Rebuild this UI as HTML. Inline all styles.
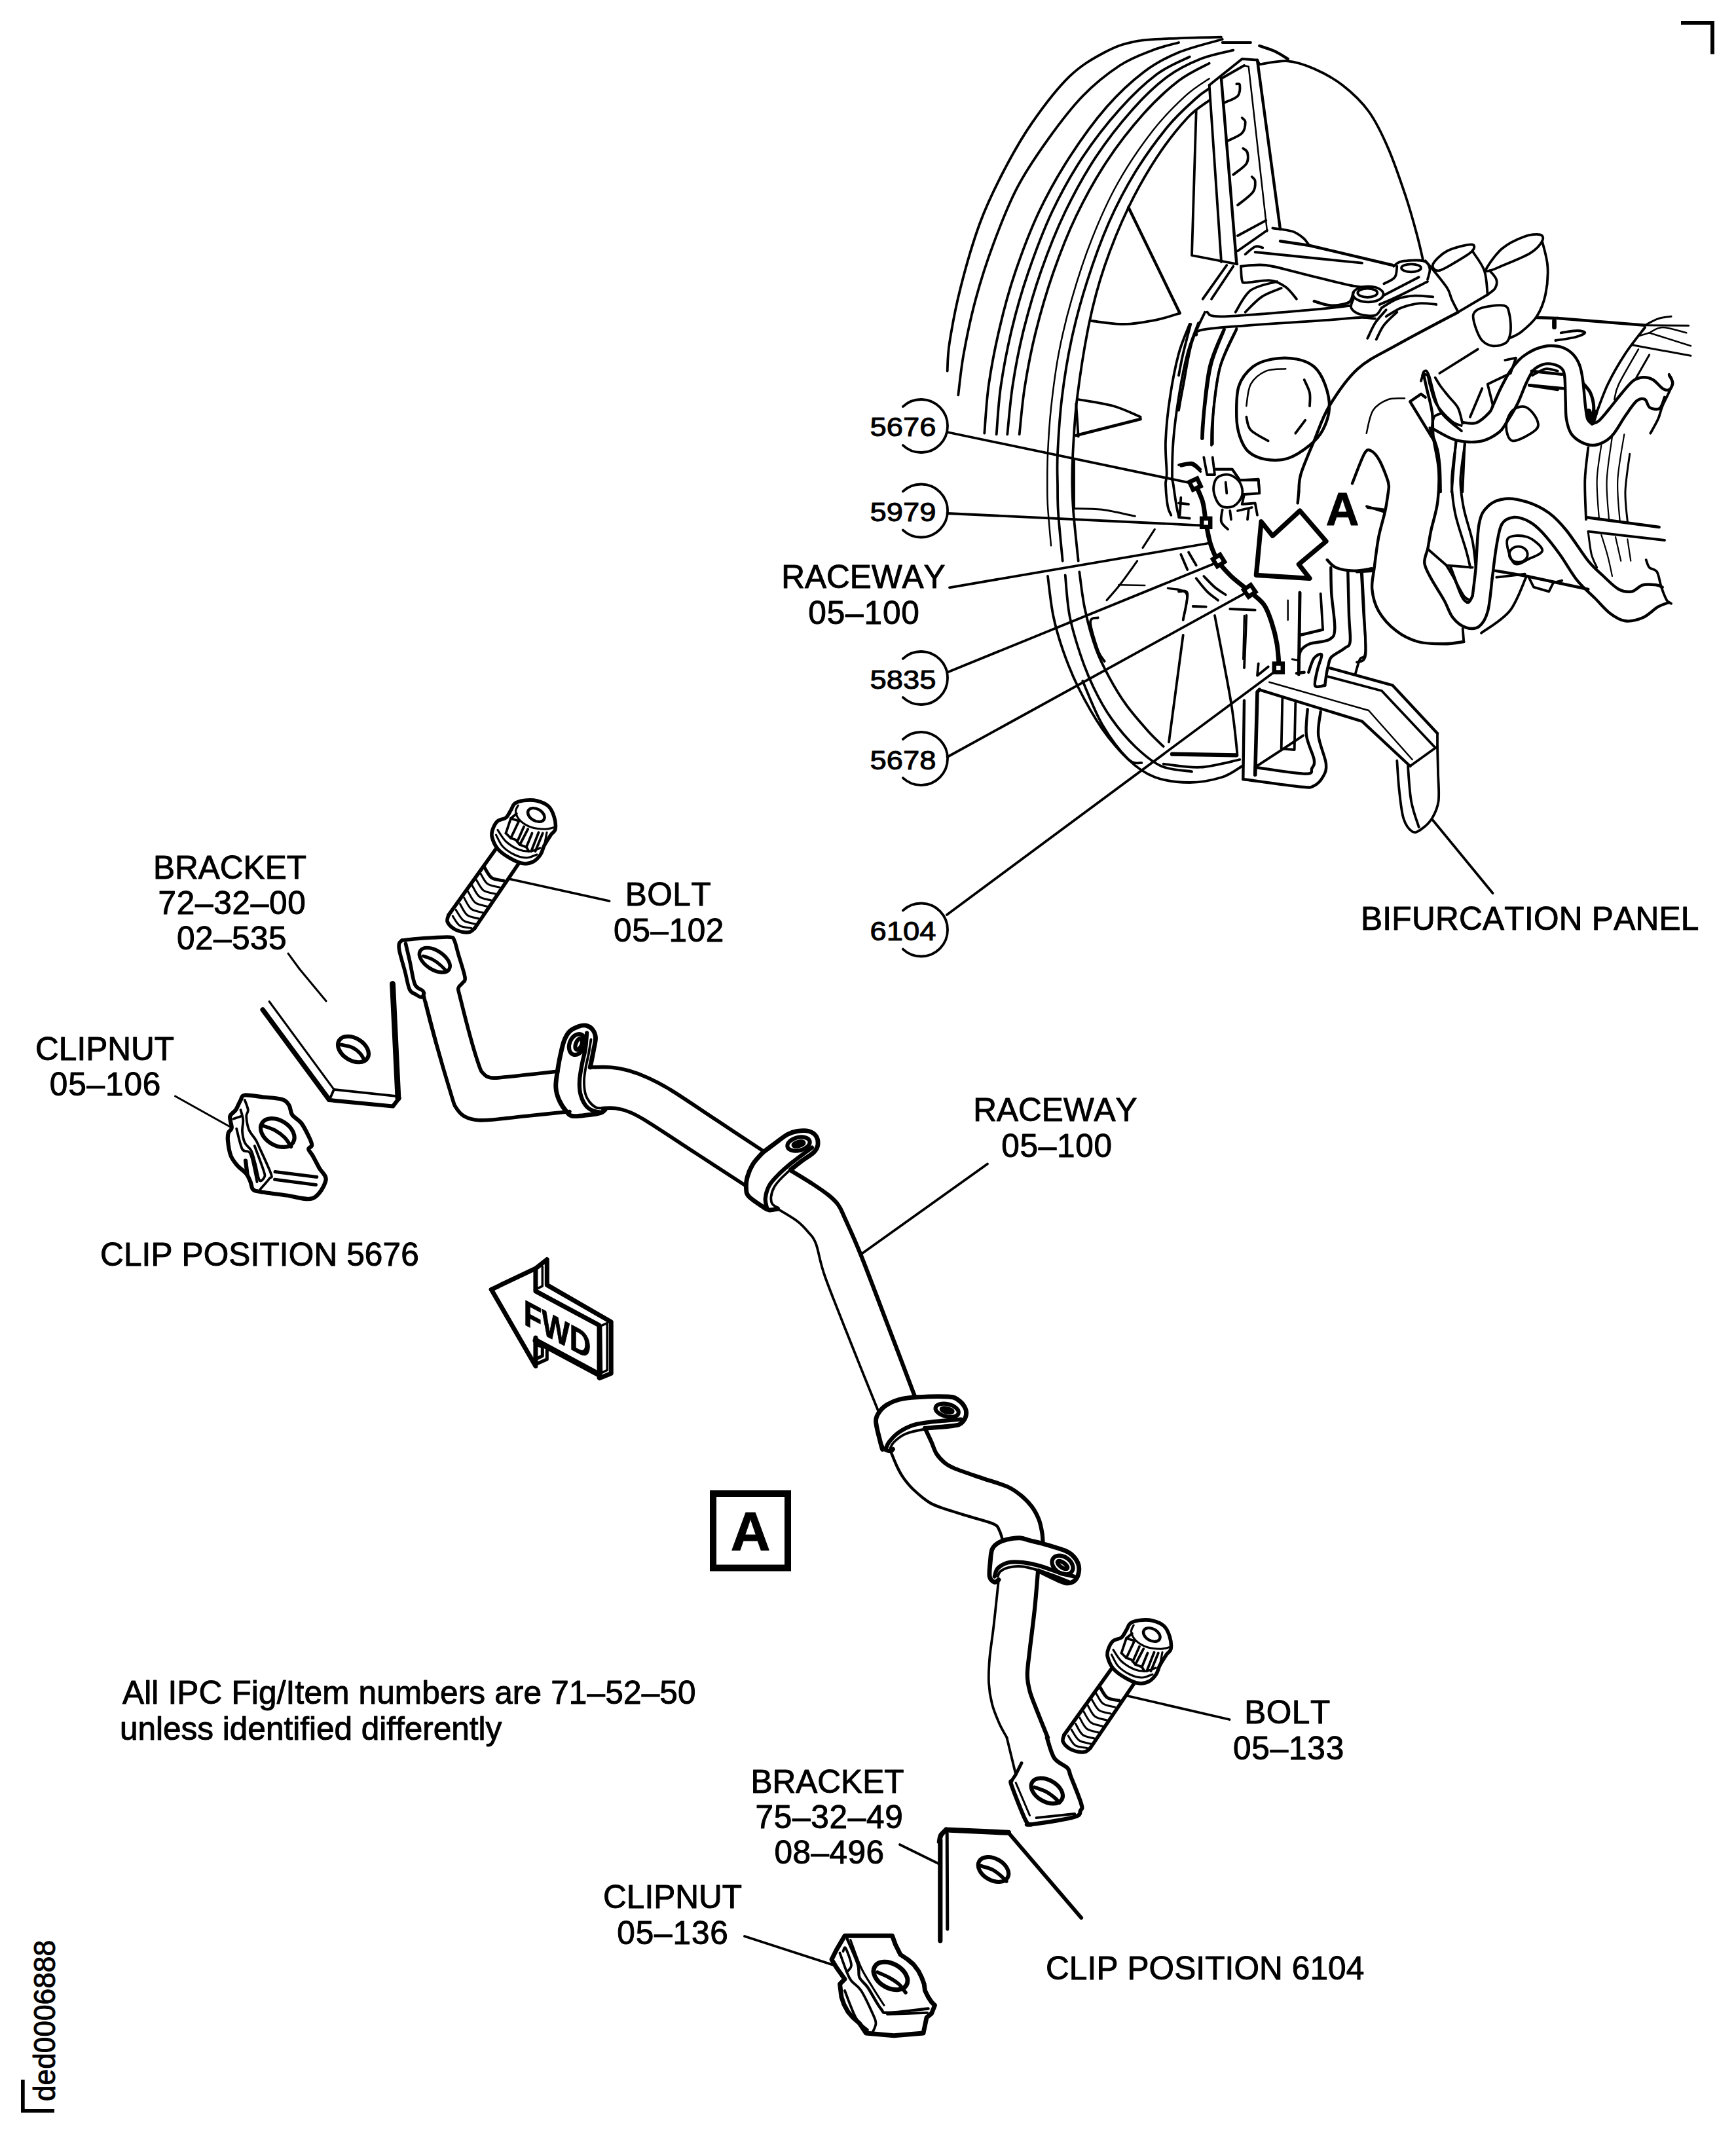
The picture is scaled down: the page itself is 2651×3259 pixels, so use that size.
<!DOCTYPE html>
<html><head><meta charset="utf-8"><title>Raceway 05-100</title>
<style>
html,body{margin:0;padding:0;background:#fff}
body{width:2651px;height:3259px;overflow:hidden}
svg{display:block}
svg text{font-family:"Liberation Sans",sans-serif;fill:#000;stroke:#000;stroke-width:1px;font-kerning:none}
</style></head><body>
<svg width="2651" height="3259" viewBox="0 0 2651 3259" >
<g fill="none" stroke="#000" stroke-width="3" stroke-linecap="round" stroke-linejoin="round" font-size="49.5">
<text x="351" y="1341.5" text-anchor="middle">BRACKET</text>
<text x="354.5" y="1396" text-anchor="middle" letter-spacing="0.75">72–32–00</text>
<text x="354" y="1450" text-anchor="middle" letter-spacing="0.5">02–535</text>
<text x="160" y="1619" text-anchor="middle">CLIPNUT</text>
<text x="161" y="1672.5" text-anchor="middle" letter-spacing="0.9">05–106</text>
<text x="153" y="1932.5" letter-spacing="0.15">CLIP POSITION 5676</text>
<text x="1020.5" y="1382.5" text-anchor="middle" letter-spacing="0.5">BOLT</text>
<text x="1021.5" y="1437.5" text-anchor="middle" letter-spacing="0.6">05–102</text>
<text x="1611.5" y="1711.5" text-anchor="middle">RACEWAY</text>
<text x="1614" y="1766.5" text-anchor="middle" letter-spacing="0.7">05–100</text>
<text x="187" y="2602" letter-spacing="0.17">All IPC Fig/Item numbers are 71–52–50</text>
<text x="183" y="2657">unless identified differently</text>
<text x="1263.5" y="2738" text-anchor="middle">BRACKET</text>
<text x="1266.5" y="2792" text-anchor="middle" letter-spacing="0.7">75–32–49</text>
<text x="1266.5" y="2846" text-anchor="middle" letter-spacing="0.5">08–496</text>
<text x="1027" y="2913.5" text-anchor="middle">CLIPNUT</text>
<text x="1027.5" y="2968.5" text-anchor="middle" letter-spacing="0.9">05–136</text>
<text x="1597" y="3023" letter-spacing="0.12">CLIP POSITION 6104</text>
<text x="1966" y="2632" text-anchor="middle" letter-spacing="0.5">BOLT</text>
<text x="1968" y="2687" text-anchor="middle" letter-spacing="0.8">05–133</text>
<text x="2078" y="1420" letter-spacing="0.3">BIFURCATION PANEL</text>
<text x="1318.5" y="897.5" text-anchor="middle">RACEWAY</text>
<text x="1319.5" y="952.5" text-anchor="middle" letter-spacing="0.9">05–100</text>
<text x="1328.5" y="666" font-size="41.5" textLength="101" lengthAdjust="spacingAndGlyphs">5676</text>
<path stroke-width="3.8" d="M1378.9 620.9A40.5 40.5 0 1 1 1378.9 680.1"/>
<text x="1328.5" y="796" font-size="41.5" textLength="101" lengthAdjust="spacingAndGlyphs">5979</text>
<path stroke-width="3.8" d="M1378.9 750.4A40.5 40.5 0 1 1 1378.9 809.6"/>
<text x="1328.5" y="1051.5" font-size="41.5" textLength="101" lengthAdjust="spacingAndGlyphs">5835</text>
<path stroke-width="3.8" d="M1378.9 1005.9A40.5 40.5 0 1 1 1378.9 1065.1"/>
<text x="1328.5" y="1174.5" font-size="41.5" textLength="101" lengthAdjust="spacingAndGlyphs">5678</text>
<path stroke-width="3.8" d="M1378.9 1128.9A40.5 40.5 0 1 1 1378.9 1188.1"/>
<text x="1328.5" y="1436" font-size="41.5" textLength="101" lengthAdjust="spacingAndGlyphs">6104</text>
<path stroke-width="3.8" d="M1378.9 1390.4A40.5 40.5 0 1 1 1378.9 1449.6"/>
<text x="1146" y="2367.8" font-size="84" text-anchor="middle" font-weight="bold">A</text>
<rect x="1089" y="2281" width="114" height="113.5" stroke-width="10" stroke-linejoin="miter"/>
<text x="83.8" y="3209" font-size="46" textLength="246" lengthAdjust="spacingAndGlyphs" transform="rotate(-90 83.8 3209)">ded0006888</text>
<path d="M2567 34.85H2615V82.7" stroke-width="5.9" stroke-linecap="butt" stroke-linejoin="miter"/>
<path d="M34.85 3176V3223.75H83" stroke-width="5.7" stroke-linecap="butt" stroke-linejoin="miter"/>
<path d="M778.8 1342.5 L930.5 1376" stroke-width="3.8"/>
<path d="M1508 1777.5 L1315.5 1915" stroke-width="3.8"/>
<path d="M1374 2817 L1433 2846" stroke-width="3.8"/>
<path d="M1137 2957 L1275.5 3002" stroke-width="3.8"/>
<path d="M1720 2589.5 L1877.5 2626" stroke-width="3.8"/>
<path d="M2188 1252.5 L2279.5 1364" stroke-width="3.8"/>
<path d="M757.5 1296.2 L685 1397.5" stroke-width="5.6"/>
<path d="M791.2 1320 L725 1417.5" stroke-width="5.6"/>
<path d="M685 1397.5C684.7 1399.2 682 1404.1 683.2 1407.5C684.5 1410.9 688.7 1415.4 692.5 1418C696.3 1420.6 702.1 1422.4 706.2 1423.2C710.4 1424.1 714.4 1424.2 717.5 1423.2C720.6 1422.3 723.8 1418.5 725 1417.5" stroke-width="5.6"/>
<path d="M740 1325C741.8 1327.6 746 1337.2 750.8 1340.5C755.5 1343.8 765.8 1344.2 768.8 1345" stroke-width="5"/>
<path d="M733.8 1333.8C735.5 1336.4 739.7 1346.2 744.5 1349.8C749.3 1353.3 759.5 1354.1 762.5 1355" stroke-width="3.1"/>
<path d="M727.5 1343.8C729.3 1346.4 733.5 1356.2 738.2 1359.8C743 1363.3 753.2 1364.1 756.2 1365" stroke-width="3.1"/>
<path d="M721.2 1352.5C723 1355.3 727.2 1365.5 732 1369.2C736.8 1373 747 1374 750 1375" stroke-width="3.1"/>
<path d="M715 1362C716.8 1364.8 721 1374.8 725.8 1378.5C730.5 1382.2 740.8 1383.3 743.8 1384.2" stroke-width="3.1"/>
<path d="M708.8 1371.2C710.5 1374 714.7 1384.2 719.5 1388C724.3 1391.8 734.5 1392.8 737.5 1393.8" stroke-width="3.1"/>
<path d="M702.5 1380.5C704.3 1383.3 708.5 1393.5 713.2 1397.2C718 1401 728.2 1402 731.2 1403" stroke-width="3.1"/>
<path d="M696.2 1389.5C698.2 1392.2 702.8 1402.1 707.8 1405.8C712.8 1409.4 723.2 1410.3 726.2 1411.2" stroke-width="3.1"/>
<path d="M691.2 1398.8C693 1401.2 697.2 1410.4 702 1413.5C706.8 1416.6 717 1416.8 720 1417.5" stroke-width="3.1"/>
<path d="M786.2 1227C789.6 1224.5 794.4 1223.2 800 1222.5C805.6 1221.8 813.8 1221.5 820 1223C826.2 1224.5 833.1 1227.2 837.5 1231.2C841.9 1235.3 844.5 1241.7 846.2 1247.5C848 1253.3 848.8 1261.7 848 1266.2C847.2 1270.8 844 1270.8 841.2 1275C838.5 1279.2 833.9 1286.2 831.2 1291.2C828.6 1296.2 828.2 1301 825.5 1305C822.8 1309 819.2 1313.2 815 1315.5C810.8 1317.8 805.8 1319.5 800 1318.8C794.2 1318 786.7 1315 780 1311.2C773.3 1307.5 764.8 1301.9 760 1296.2C755.2 1290.6 752.4 1282.7 751.2 1277.5C750.1 1272.3 751.5 1269 753 1265C754.5 1261 756.8 1256.5 760 1253.8C763.2 1251 769.2 1251.5 772.5 1248.8C775.8 1246 777.7 1241.1 780 1237.5C782.3 1233.9 782.9 1229.5 786.2 1227Z" stroke-width="5.6"/>
<path d="M757.5 1275C759.2 1277.9 762.9 1287.5 767.5 1292.5C772.1 1297.5 779 1302.1 785 1305C791 1307.9 797.9 1310 803.8 1310C809.6 1310 817.3 1305.8 820 1305" stroke-width="3.1"/>
<path d="M760 1267.5C762.1 1270.4 767.1 1280 772.5 1285C777.9 1290 786.2 1295 792.5 1297.5C798.8 1300 804.6 1300.4 810 1300C815.4 1299.6 822.5 1295.8 825 1295" stroke-width="3.1"/>
<path d="M791.2 1230C790.6 1231.7 786.9 1236 787.5 1240C788.1 1244 790.8 1249.8 795 1253.8C799.2 1257.7 806.2 1261.7 812.5 1263.8C818.8 1265.8 827.1 1266.2 832.5 1266.2C837.9 1266.2 842.9 1264.2 845 1263.8" stroke-width="3.1"/>
<ellipse cx="818.8" cy="1244.5" rx="13.8" ry="9" transform="rotate(30 818.8 1244.5)" stroke-width="4.4"/>
<path d="M780 1250 L772.5 1272.5" stroke-width="3.8"/>
<path d="M788.8 1242.5 L780 1250 L792.5 1253.8" stroke-width="3.8"/>
<path d="M792.5 1253.8 L780 1280" stroke-width="3.8"/>
<path d="M772.5 1272.5 L780 1280 L787.5 1282.5 L793.8 1290" stroke-width="3.8"/>
<path d="M800 1262.5 L791.2 1282.5" stroke-width="3.8"/>
<path d="M806.2 1266.2 L793.8 1290 L803.8 1293.8 L807.5 1300" stroke-width="3.8"/>
<path d="M812.5 1272.5 L803.8 1293.8" stroke-width="3.8"/>
<path d="M822.5 1271.2 L811.2 1300" stroke-width="3.8"/>
<path d="M828.8 1272.5 L817.5 1300" stroke-width="3.8"/>
<path d="M835 1271.2 L831.2 1291.2" stroke-width="3.1"/>
<path d="M1697.5 2548.2 L1625 2649.5" stroke-width="5.6"/>
<path d="M1731.2 2572 L1665 2669.5" stroke-width="5.6"/>
<path d="M1625 2649.5C1624.7 2651.2 1622 2656.1 1623.2 2659.5C1624.5 2662.9 1628.7 2667.4 1632.5 2670C1636.3 2672.6 1642.1 2674.4 1646.2 2675.2C1650.4 2676.1 1654.4 2676.2 1657.5 2675.2C1660.6 2674.3 1663.8 2670.5 1665 2669.5" stroke-width="5.6"/>
<path d="M1680 2577C1681.8 2579.6 1686 2589.2 1690.8 2592.5C1695.5 2595.8 1705.8 2596.2 1708.8 2597" stroke-width="5"/>
<path d="M1673.8 2585.8C1675.5 2588.4 1679.7 2598.2 1684.5 2601.8C1689.3 2605.3 1699.5 2606.1 1702.5 2607" stroke-width="3.1"/>
<path d="M1667.5 2595.8C1669.3 2598.4 1673.5 2608.2 1678.2 2611.8C1683 2615.3 1693.2 2616.1 1696.2 2617" stroke-width="3.1"/>
<path d="M1661.2 2604.5C1663 2607.3 1667.2 2617.5 1672 2621.2C1676.8 2625 1687 2626 1690 2627" stroke-width="3.1"/>
<path d="M1655 2614C1656.8 2616.8 1661 2626.8 1665.8 2630.5C1670.5 2634.2 1680.8 2635.3 1683.8 2636.2" stroke-width="3.1"/>
<path d="M1648.8 2623.2C1650.5 2626 1654.7 2636.2 1659.5 2640C1664.3 2643.8 1674.5 2644.8 1677.5 2645.8" stroke-width="3.1"/>
<path d="M1642.5 2632.5C1644.3 2635.3 1648.5 2645.5 1653.2 2649.2C1658 2653 1668.2 2654 1671.2 2655" stroke-width="3.1"/>
<path d="M1636.2 2641.5C1638.2 2644.2 1642.8 2654.1 1647.8 2657.8C1652.8 2661.4 1663.2 2662.3 1666.2 2663.2" stroke-width="3.1"/>
<path d="M1631.2 2650.8C1633 2653.2 1637.2 2662.4 1642 2665.5C1646.8 2668.6 1657 2668.8 1660 2669.5" stroke-width="3.1"/>
<path d="M1726.2 2479C1729.6 2476.5 1734.4 2475.2 1740 2474.5C1745.6 2473.8 1753.8 2473.5 1760 2475C1766.2 2476.5 1773.1 2479.2 1777.5 2483.2C1781.9 2487.3 1784.5 2493.7 1786.2 2499.5C1788 2505.3 1788.8 2513.7 1788 2518.2C1787.2 2522.8 1784 2522.8 1781.2 2527C1778.5 2531.2 1773.9 2538.2 1771.2 2543.2C1768.6 2548.2 1768.2 2553 1765.5 2557C1762.8 2561 1759.2 2565.2 1755 2567.5C1750.8 2569.8 1745.8 2571.5 1740 2570.8C1734.2 2570 1726.7 2567 1720 2563.2C1713.3 2559.5 1704.8 2553.9 1700 2548.2C1695.2 2542.6 1692.4 2534.7 1691.2 2529.5C1690.1 2524.3 1691.5 2521 1693 2517C1694.5 2513 1696.8 2508.5 1700 2505.8C1703.2 2503 1709.2 2503.5 1712.5 2500.8C1715.8 2498 1717.7 2493.1 1720 2489.5C1722.3 2485.9 1722.9 2481.5 1726.2 2479Z" stroke-width="5.6"/>
<path d="M1697.5 2527C1699.2 2529.9 1702.9 2539.5 1707.5 2544.5C1712.1 2549.5 1719 2554.1 1725 2557C1731 2559.9 1737.9 2562 1743.8 2562C1749.6 2562 1757.3 2557.8 1760 2557" stroke-width="3.1"/>
<path d="M1700 2519.5C1702.1 2522.4 1707.1 2532 1712.5 2537C1717.9 2542 1726.2 2547 1732.5 2549.5C1738.8 2552 1744.6 2552.4 1750 2552C1755.4 2551.6 1762.5 2547.8 1765 2547" stroke-width="3.1"/>
<path d="M1731.2 2482C1730.6 2483.7 1726.9 2488 1727.5 2492C1728.1 2496 1730.8 2501.8 1735 2505.8C1739.2 2509.7 1746.2 2513.7 1752.5 2515.8C1758.8 2517.8 1767.1 2518.2 1772.5 2518.2C1777.9 2518.2 1782.9 2516.2 1785 2515.8" stroke-width="3.1"/>
<ellipse cx="1758.8" cy="2496.5" rx="13.8" ry="9" transform="rotate(30 1758.8 2496.5)" stroke-width="4.4"/>
<path d="M1720 2502 L1712.5 2524.5" stroke-width="3.8"/>
<path d="M1728.8 2494.5 L1720 2502 L1732.5 2505.8" stroke-width="3.8"/>
<path d="M1732.5 2505.8 L1720 2532" stroke-width="3.8"/>
<path d="M1712.5 2524.5 L1720 2532 L1727.5 2534.5 L1733.8 2542" stroke-width="3.8"/>
<path d="M1740 2514.5 L1731.2 2534.5" stroke-width="3.8"/>
<path d="M1746.2 2518.2 L1733.8 2542 L1743.8 2545.8 L1747.5 2552" stroke-width="3.8"/>
<path d="M1752.5 2524.5 L1743.8 2545.8" stroke-width="3.8"/>
<path d="M1762.5 2523.2 L1751.2 2552" stroke-width="3.8"/>
<path d="M1768.8 2524.5 L1757.5 2552" stroke-width="3.8"/>
<path d="M1775 2523.2 L1771.2 2543.2" stroke-width="3.1"/>
<path d="M613.8 1436.2C617.3 1435.8 627.3 1434.5 635 1433.8C642.7 1433 651.2 1432.4 660 1432C668.8 1431.6 681.9 1430.5 687.5 1431.2C693.1 1432 691.7 1431.9 693.8 1436.2C695.8 1440.6 697.3 1448.1 700 1457.5C702.7 1466.9 709 1485.2 710 1492.5C711 1499.8 707.9 1498.5 706.2 1501.2C704.6 1504 700.6 1505.2 700 1508.8C699.4 1512.3 699.2 1509 702.5 1522.5C705.8 1536 715 1572.1 720 1590C725 1607.9 729.6 1621.9 732.5 1630C735.4 1638.1 735.2 1636.2 737.5 1638.8C739.8 1641.2 741.7 1643.9 746.2 1645C750.8 1646.1 747.5 1647 765 1645.5C782.5 1644 836.9 1637.8 851.2 1636.2" stroke-width="5.6"/>
<path d="M613.8 1436.2C613 1437.1 610.1 1438.5 609.5 1441.2C608.9 1444 608.5 1445.2 610 1452.5C611.5 1459.8 616.2 1475.2 618.8 1485C621.3 1494.8 622.8 1505.6 625.5 1511.2C628.2 1516.9 632 1516.8 635 1518.8C638 1520.7 641.7 1523.3 643.8 1523C645.8 1522.7 646.9 1518 647.5 1517" stroke-width="5.6"/>
<path d="M619.5 1441.2C620.6 1446 623.9 1459.6 626.2 1470C628.6 1480.4 630.4 1496.5 633.8 1503.8C637.1 1511 643.9 1510.2 646.2 1513.8C648.6 1517.3 644.9 1512.3 648 1525C651.1 1537.7 658 1565 665 1590C672 1615 684.8 1658.1 690 1675C695.2 1691.9 693.3 1686.5 696.2 1691.2C699.2 1696 702.7 1700.6 707.5 1703.8C712.3 1706.9 718.8 1708.9 725 1710C731.2 1711.1 730.8 1711.5 745 1710.5C759.2 1709.5 789.2 1705.9 810 1703.8C830.8 1701.6 860 1698.5 870 1697.5" stroke-width="5.6"/>
<path d="M651.2 1530C654 1540.4 661.2 1569.2 667.5 1592.5C673.8 1615.8 685.2 1657.1 688.8 1670" stroke-width="2.5"/>
<ellipse cx="663.8" cy="1466.2" rx="26.2" ry="14.5" transform="rotate(33 663.8 1466.2)" stroke-width="5.6"/>
<path d="M646.2 1460C648.5 1460.8 655.6 1462.7 660 1465C664.4 1467.3 668.8 1470.6 672.5 1473.8C676.2 1476.9 680.8 1482.1 682.5 1483.8" stroke-width="5"/>
<path d="M401.2 1542 L502.5 1679.2" stroke-width="7.5"/>
<path d="M411.2 1529.5 L510 1663.8" stroke-width="3.1"/>
<path d="M510 1663.8 L603.8 1673.8" stroke-width="3.8"/>
<path d="M502.5 1680 L600 1689.5 L609.5 1677" stroke-width="6.2"/>
<path d="M510 1663.8 L503.8 1678" stroke-width="3.8"/>
<path d="M599.5 1502.5 L608 1677.5" stroke-width="8.8"/>
<ellipse cx="539.5" cy="1602.5" rx="25.5" ry="17" transform="rotate(32 539.5 1602.5)" stroke-width="6.2"/>
<path d="M521.2 1595.5C524 1596.2 532.7 1597.3 537.5 1599.5C542.3 1601.7 546.9 1605.5 550 1608.8C553.1 1612 555.2 1617.1 556.2 1618.8" stroke-width="5.6"/>
<path d="M457.5 1480 L498 1528.8" stroke-width="3.1"/>
<path d="M440 1456.2 L457.5 1480" stroke-width="3.1"/>
<path d="M373.8 1672.5C379.6 1671.8 393.1 1674.5 402.5 1675.5C411.9 1676.5 423.5 1676.8 430 1678.8C436.5 1680.8 438.5 1683.5 441.2 1687.5C444 1691.5 443.1 1697.9 446.2 1702.5C449.4 1707.1 455.8 1709.6 460 1715C464.2 1720.4 468.5 1729.4 471.2 1735C474 1740.6 476.2 1745.4 476.2 1748.8C476.2 1752.1 471 1752.3 471.2 1755C471.5 1757.7 474.8 1760.2 477.5 1765C480.2 1769.8 484.2 1777.5 487.5 1783.8C490.8 1790 499.2 1794.8 497.5 1802.5C495.8 1810.2 487.5 1826.2 477.5 1830C467.5 1833.8 450.8 1827.2 437.5 1825.5C424.2 1823.8 406 1821.5 397.5 1820C389 1818.5 388.8 1818.8 386.2 1816.2C383.8 1813.8 384.2 1809 382.5 1805C380.8 1801 379.6 1796.7 376.2 1792.5C372.9 1788.3 366.5 1784.6 362.5 1780C358.5 1775.4 354.9 1771.2 352.5 1765C350.1 1758.8 348.6 1748.3 348 1742.5C347.4 1736.7 347.8 1733.3 348.8 1730C349.7 1726.7 353.3 1726.7 353.8 1722.5C354.2 1718.3 350.2 1709.6 351.2 1705C352.3 1700.4 357.3 1699.2 360 1695C362.7 1690.8 365.2 1683.8 367.5 1680C369.8 1676.2 367.9 1673.2 373.8 1672.5Z" stroke-width="6.2"/>
<ellipse cx="423.8" cy="1730" rx="28" ry="19" transform="rotate(32 423.8 1730)" stroke-width="6.2"/>
<path d="M402.5 1719.5C405.4 1720.6 414.6 1723.2 420 1726.2C425.4 1729.2 430.9 1733.3 435 1737.5C439.1 1741.7 442.9 1749 444.5 1751.2" stroke-width="5.6"/>
<path d="M373.8 1680C374.6 1682.5 378.3 1690.8 378.8 1695C379.2 1699.2 376 1700 376.2 1705C376.5 1710 377.7 1719.2 380 1725C382.3 1730.8 387.5 1735.8 390 1740C392.5 1744.2 391 1741.2 395 1750C399 1758.8 411 1784.2 413.8 1792.5C416.5 1800.8 414 1796 411.2 1800C408.5 1804 399.8 1813.5 397.5 1816.2" stroke-width="3.8"/>
<path d="M367.5 1695C368.1 1697.5 370.8 1704.6 371.2 1710C371.7 1715.4 369.6 1721.7 370 1727.5C370.4 1733.3 371.5 1740 373.8 1745C376 1750 381 1752.1 383.8 1757.5C386.5 1762.9 387.9 1770 390 1777.5C392.1 1785 394 1799.2 396.2 1802.5C398.5 1805.8 402.7 1800 403.8 1797.5C404.8 1795 405 1795.4 402.5 1787.5C400 1779.6 391 1756.2 388.8 1750" stroke-width="3.8"/>
<path d="M420 1789.5 L483.8 1797.5" stroke-width="5"/>
<path d="M419.5 1801.2 L482.5 1809.5" stroke-width="5"/>
<path d="M361.2 1723.8C362.7 1729 366.5 1748.5 370 1755C373.5 1761.5 378.8 1754.2 382.5 1762.5C386.2 1770.8 390.8 1797.9 392.5 1805" stroke-width="3.8"/>
<path d="M375 1772.5 L377.5 1792.5" stroke-width="6.2"/>
<path d="M356.2 1708.8 L367.5 1705" stroke-width="3.8"/>
<path d="M267.5 1674 L352.5 1721.5" stroke-width="3.1"/>
<path d="M851.2 1636.2C851.9 1632.7 853.3 1622.7 855 1615C856.7 1607.3 858.8 1596.7 861.2 1590C863.8 1583.3 866.2 1578.8 870 1575C873.8 1571.2 879.6 1569 883.8 1567.5C887.9 1566 891.5 1565.4 895 1566.2C898.5 1567.1 902.6 1569.4 905 1572.5C907.4 1575.6 909.3 1579.6 909.5 1585C909.7 1590.4 907.6 1597.5 906.2 1605C904.9 1612.5 902.1 1625.8 901.2 1630" stroke-width="6.9"/>
<path d="M851.2 1636.2C850.8 1640.2 848.3 1652.7 848.8 1660C849.2 1667.3 851 1673.8 853.8 1680C856.5 1686.2 861.5 1693.4 865 1697.5C868.5 1701.6 869.2 1703.7 875 1704.5C880.8 1705.3 892.9 1703.3 900 1702.5C907.1 1701.7 913.5 1700.8 917.5 1699.5C921.5 1698.2 922.7 1695.8 923.8 1695" stroke-width="6.9"/>
<path d="M896.2 1577.5C895.8 1581.7 895 1594.6 893.8 1602.5C892.5 1610.4 890.2 1617.1 888.8 1625C887.3 1632.9 885.4 1642.5 885 1650C884.6 1657.5 884.8 1663.8 886.2 1670C887.7 1676.2 890.6 1683.1 893.8 1687.5C896.9 1691.9 901 1694.4 905 1696.2C909 1698.1 915.4 1698.3 917.5 1698.8" stroke-width="6.2"/>
<path d="M902.5 1587.5C901.9 1591.2 900.1 1602.9 898.8 1610C897.4 1617.1 895.6 1623.3 894.5 1630C893.4 1636.7 892.1 1643.3 892 1650C891.9 1656.7 892.4 1664.6 893.8 1670C895.1 1675.4 897.3 1679 900 1682.5C902.7 1686 906.7 1689.6 910 1691.2C913.3 1692.9 918.3 1692.3 920 1692.5" stroke-width="3.8"/>
<ellipse cx="881.2" cy="1595" rx="11.5" ry="16.5" transform="rotate(22 881.2 1595)" stroke-width="6.2"/>
<ellipse cx="883.8" cy="1594.5" rx="4.5" ry="9" transform="rotate(22 883.8 1594.5)" stroke-width="6.2"/>
<path d="M901.2 1630C906.5 1630 922.7 1629.2 932.5 1630C942.3 1630.8 950.4 1632.3 960 1635C969.6 1637.7 979.2 1641.2 990 1646.2C1000.8 1651.2 1007.5 1654.2 1025 1665C1042.5 1675.8 1071.7 1695.8 1095 1711.2C1118.3 1726.7 1153.3 1749.8 1165 1757.5" stroke-width="5.6"/>
<path d="M920 1692.5C923.3 1692.5 932.9 1691.5 940 1692.5C947.1 1693.5 954.2 1695.2 962.5 1698.8C970.8 1702.3 973.1 1703.2 990 1713.8C1006.9 1724.3 1039.2 1746 1063.8 1762C1088.3 1778 1125.2 1802 1137.5 1810" stroke-width="5.6"/>
<path d="M1165 1760C1168.3 1757.5 1178.8 1749.6 1185 1745C1191.2 1740.4 1197.1 1735.4 1202.5 1732.5C1207.9 1729.6 1212.1 1728.3 1217.5 1727.5C1222.9 1726.7 1230.2 1726.2 1235 1727.5C1239.8 1728.8 1244 1731.5 1246.2 1735C1248.5 1738.5 1249.4 1744.6 1248.8 1748.8C1248.1 1752.9 1246.5 1756 1242.5 1760C1238.5 1764 1230.8 1768.1 1225 1772.5C1219.2 1776.9 1210.4 1784 1207.5 1786.2" stroke-width="6.9"/>
<path d="M1165 1760C1162.5 1762.9 1154 1771.2 1150 1777.5C1146 1783.8 1143 1791.2 1141.2 1797.5C1139.5 1803.8 1139.1 1810 1139.5 1815C1139.9 1820 1139.3 1822.7 1143.8 1827.5C1148.2 1832.3 1161 1840.3 1166.2 1843.8C1171.5 1847.2 1171.5 1847.6 1175 1848C1178.5 1848.4 1185.4 1846.5 1187.5 1846.2" stroke-width="6.9"/>
<path d="M1240 1752.5C1235 1756.2 1218.3 1768.3 1210 1775C1201.7 1781.7 1195.8 1786.7 1190 1792.5C1184.2 1798.3 1178.5 1803.8 1175 1810C1171.5 1816.2 1169.4 1824.2 1168.8 1830C1168.1 1835.8 1170.8 1842.5 1171.2 1845" stroke-width="6.2"/>
<path d="M1246.2 1757.5C1241.5 1760.8 1226 1770.8 1217.5 1777.5C1209 1784.2 1200.8 1791.7 1195 1797.5C1189.2 1803.3 1185.4 1807.5 1182.5 1812.5C1179.6 1817.5 1178 1823.1 1177.5 1827.5C1177 1831.9 1177.6 1835.8 1179.5 1838.8C1181.4 1841.7 1187.2 1844 1188.8 1845" stroke-width="3.8"/>
<ellipse cx="1219.5" cy="1747" rx="17.5" ry="10" transform="rotate(-14 1219.5 1747)" stroke-width="6.2"/>
<ellipse cx="1219.5" cy="1747" rx="8" ry="3.2" transform="rotate(-14 1219.5 1747)" stroke-width="6.2"/>
<path d="M1207.5 1787.5C1212.9 1790.8 1230.4 1801.2 1240 1807.5C1249.6 1813.8 1258.3 1819.6 1265 1825C1271.7 1830.4 1275.8 1834.2 1280 1840C1284.2 1845.8 1284.2 1847.1 1290 1860C1295.8 1872.9 1304 1890 1315 1917.5C1326 1945 1342.5 1989 1356.2 2025C1370 2061 1390.6 2115.6 1397.5 2133.8" stroke-width="6.2"/>
<path d="M1187.5 1846.2C1192.5 1849.4 1209.6 1859 1217.5 1865C1225.4 1871 1230.2 1876.7 1235 1882.5C1239.8 1888.3 1242.1 1888.8 1246.2 1900C1250.4 1911.2 1251 1924.6 1260 1950C1269 1975.4 1286.5 2018.3 1300 2052.5C1313.5 2086.7 1334.4 2137.9 1341.2 2155" stroke-width="3.8"/>
<path d="M1347.5 2213.5C1346.9 2211.2 1345.4 2207.2 1343.8 2200C1342.1 2192.8 1337.5 2177.5 1337.5 2170C1337.5 2162.5 1340.8 2159.2 1343.8 2155C1346.7 2150.8 1350.2 2147.9 1355 2145C1359.8 2142.1 1365 2139.4 1372.5 2137.5C1380 2135.6 1387.5 2134.5 1400 2133.8C1412.5 2133 1437.1 2132.4 1447.5 2133C1457.9 2133.6 1458.1 2134.7 1462.5 2137.5C1466.9 2140.3 1471.7 2145.8 1473.8 2150C1475.8 2154.2 1476 2158.5 1475 2162.5C1474 2166.5 1470.8 2171.2 1467.5 2173.8C1464.2 2176.2 1464.2 2176.2 1455 2177.5C1445.8 2178.8 1419.6 2180.6 1412.5 2181.2" stroke-width="6.9"/>
<path d="M1467.5 2167.5C1460.4 2168.1 1437.1 2169.8 1425 2171.2C1412.9 2172.7 1403.8 2173.5 1395 2176.2C1386.2 2179 1378.8 2183.1 1372.5 2187.5C1366.2 2191.9 1360.8 2198.2 1357.5 2202.5C1354.2 2206.8 1353.3 2211.7 1352.5 2213.5" stroke-width="6.2"/>
<path d="M1460 2177.5C1452.1 2178.3 1425.4 2180.4 1412.5 2182.5C1399.6 2184.6 1390.4 2186.7 1382.5 2190C1374.6 2193.3 1369 2198.6 1365 2202.5C1361 2206.4 1359.8 2211.7 1358.8 2213.5" stroke-width="3.8"/>
<ellipse cx="1446.2" cy="2153.8" rx="18" ry="9.5" transform="rotate(14 1446.2 2153.8)" stroke-width="6.2"/>
<ellipse cx="1446.2" cy="2153.8" rx="8.5" ry="3" transform="rotate(14 1446.2 2153.8)" stroke-width="6.2"/>
<path d="M1346.2 2207.5C1346.9 2208.4 1347.7 2211.5 1350 2213C1352.3 2214.5 1357.7 2216.2 1360 2216.2C1362.3 2216.2 1363.1 2213.5 1363.8 2213" stroke-width="6.2"/>
<path d="M1412.5 2181.2C1414.2 2184.8 1419.6 2196 1422.5 2202.5C1425.4 2209 1426.7 2214.8 1430 2220C1433.3 2225.2 1437.9 2230 1442.5 2233.8C1447.1 2237.5 1447.9 2238.5 1457.5 2242.5C1467.1 2246.5 1486.7 2252.9 1500 2257.5C1513.3 2262.1 1527.9 2265.8 1537.5 2270C1547.1 2274.2 1551.2 2277.5 1557.5 2282.5C1563.8 2287.5 1570.2 2293.8 1575 2300C1579.8 2306.2 1583.5 2313.3 1586.2 2320C1589 2326.7 1590.2 2334.2 1591.2 2340C1592.3 2345.8 1592.3 2352.5 1592.5 2355" stroke-width="6.2"/>
<path d="M1360 2216.2C1361.7 2220.2 1366.7 2233.1 1370 2240C1373.3 2246.9 1375.8 2251.7 1380 2257.5C1384.2 2263.3 1388.3 2268.8 1395 2275C1401.7 2281.2 1411.7 2290 1420 2295C1428.3 2300 1434.8 2301.5 1445 2305C1455.2 2308.5 1469.2 2312.5 1481.2 2316.2C1493.3 2320 1510 2324 1517.5 2327.5C1525 2331 1524 2333.3 1526.2 2337.5C1528.5 2341.7 1530.4 2350 1531.2 2352.5" stroke-width="4.4"/>
<path d="M1586.2 2398.8C1591.9 2401.5 1612.3 2411.9 1620 2415C1627.7 2418.1 1628.8 2417.9 1632.5 2417.5C1636.2 2417.1 1640 2415.4 1642.5 2412.5C1645 2409.6 1646.9 2404.2 1647.5 2400C1648.1 2395.8 1647.9 2391.7 1646.2 2387.5C1644.6 2383.3 1641 2378.3 1637.5 2375C1634 2371.7 1632.5 2370.4 1625 2367.5C1617.5 2364.6 1601.2 2360 1592.5 2357.5C1583.8 2355 1578.3 2354 1572.5 2352.5C1566.7 2351 1563.3 2349 1557.5 2348.8C1551.7 2348.5 1543.3 2349.8 1537.5 2351.2C1531.7 2352.7 1526.2 2355 1522.5 2357.5C1518.8 2360 1516.7 2362.1 1515 2366.2C1513.3 2370.4 1513.1 2375.6 1512.5 2382.5C1511.9 2389.4 1510.2 2401.9 1511.2 2407.5C1512.3 2413.1 1516.5 2415.4 1518.8 2416.2C1521 2417.1 1524 2413.1 1525 2412.5" stroke-width="6.9"/>
<path d="M1640 2407.5C1636.7 2406.7 1628.8 2405.2 1620 2402.5C1611.2 2399.8 1597.1 2394 1587.5 2391.2C1577.9 2388.5 1570.4 2387.1 1562.5 2386.2C1554.6 2385.4 1546.5 2384.8 1540 2386.2C1533.5 2387.7 1527.3 2391.5 1523.8 2395C1520.2 2398.5 1519.6 2405.4 1518.8 2407.5" stroke-width="6.2"/>
<path d="M1632.5 2415C1627.1 2412.9 1611.7 2406.2 1600 2402.5C1588.3 2398.8 1572.5 2394 1562.5 2392.5C1552.5 2391 1545.8 2392.5 1540 2393.8C1534.2 2395 1530.2 2397.7 1527.5 2400C1524.8 2402.3 1524.4 2406.2 1523.8 2407.5" stroke-width="3.8"/>
<ellipse cx="1622.5" cy="2390" rx="17.5" ry="12.5" transform="rotate(35 1622.5 2390)" stroke-width="6.2"/>
<ellipse cx="1622.5" cy="2390" rx="9" ry="3.8" transform="rotate(35 1622.5 2390)" stroke-width="6.2"/>
<path d="M1585 2400C1584.2 2409.6 1582.1 2437.5 1580 2457.5C1577.9 2477.5 1574.4 2503.3 1572.5 2520C1570.6 2536.7 1568.8 2547.1 1568.8 2557.5C1568.8 2567.9 1570.2 2573.8 1572.5 2582.5C1574.8 2591.2 1577.9 2598.2 1582.5 2610C1587.1 2621.8 1597.1 2646.2 1600 2653.5" stroke-width="6.2"/>
<path d="M1525 2412.5C1523.8 2424.2 1519.8 2462.5 1517.5 2482.5C1515.2 2502.5 1512.5 2517.9 1511.2 2532.5C1510 2547.1 1509.4 2558.3 1510 2570C1510.6 2581.7 1512.3 2592.1 1515 2602.5C1517.7 2612.9 1522.5 2624 1526.2 2632.5C1530 2641 1535.6 2650 1537.5 2653.5" stroke-width="3.8"/>
<path d="M1598.8 2653.8C1600.6 2659 1604.8 2677.3 1610 2685C1615.2 2692.7 1625.8 2695.4 1630 2700C1634.2 2704.6 1631.5 2703.3 1635 2712.5C1638.5 2721.7 1648.8 2746.2 1651.2 2755C1653.8 2763.8 1651.9 2761.7 1650 2765C1648.1 2768.3 1652.5 2771.5 1640 2775C1627.5 2778.5 1586.9 2784.6 1575 2786.2C1563.1 2787.9 1569.8 2785.2 1568.8 2785" stroke-width="6.2"/>
<path d="M1537.5 2653.8 L1551.2 2710" stroke-width="3.8"/>
<path d="M1560 2692.5 L1551.2 2710 L1544.5 2720" stroke-width="5"/>
<path d="M1544.5 2720C1544.6 2721.2 1541.4 2717.5 1545 2727.5C1548.6 2737.5 1561.2 2770.2 1566.2 2780C1571.2 2789.8 1573.5 2785.2 1575 2786.2" stroke-width="6.2"/>
<path d="M1551.2 2722.5 L1572.5 2772.5" stroke-width="3.1"/>
<path d="M1582.5 2776.2 L1641.2 2770" stroke-width="3.8"/>
<ellipse cx="1598.8" cy="2735" rx="26.2" ry="16.5" transform="rotate(30 1598.8 2735)" stroke-width="6.2"/>
<path d="M1580 2729.5C1582.9 2730.6 1592.5 2733.7 1597.5 2736.2C1602.5 2738.8 1606.6 2742.2 1610 2745C1613.4 2747.8 1616.7 2751.7 1618 2753" stroke-width="5.6"/>
<path d="M1435.8 2810 L1435.8 2963.8" stroke-width="7.2"/>
<path d="M1434.5 2812.5C1434.9 2810.8 1435.2 2805.5 1437 2802.5C1438.8 2799.5 1443.7 2795.8 1445 2794.5" stroke-width="7.5"/>
<path d="M1445 2794.5 L1540 2798.8" stroke-width="8.1"/>
<path d="M1446.2 2800 L1446.8 2946.2" stroke-width="5"/>
<path d="M1540 2798.8 L1651.2 2928.8" stroke-width="5.8"/>
<ellipse cx="1517" cy="2855" rx="25" ry="16.5" transform="rotate(30 1517 2855)" stroke-width="6.2"/>
<path d="M1497.5 2849.5C1500.4 2850.4 1510 2852.6 1515 2855C1520 2857.4 1523.9 2860.8 1527.5 2863.8C1531.1 2866.8 1535.2 2871.5 1536.8 2873" stroke-width="5.6"/>
<path d="M1290 2956.2 L1362.5 2956.2 L1367.5 2970 L1375 2985 L1386.2 2992.5 L1395 3000 L1402.5 3010 L1407.5 3020 L1411.2 3030 L1412.5 3040 L1417.5 3050 L1422.5 3057.5 L1427.5 3062.5 L1422.5 3075 L1415 3081.2 L1410 3105 L1365 3108.8 L1322.5 3105 L1312.5 3090 L1302.5 3081.2 L1295 3072.5 L1288.8 3061.2 L1285 3050 L1282.5 3030 L1290 3022.5 L1277.5 3005 L1270 2992.5 L1277.5 2977.5Z" stroke-width="6.9"/>
<ellipse cx="1360" cy="3017.5" rx="28" ry="18.5" transform="rotate(30 1360 3017.5)" stroke-width="6.9"/>
<path d="M1340 3012C1342.9 3013.3 1352.1 3017 1357.5 3020C1362.9 3023 1368.2 3026.2 1372.5 3030C1376.8 3033.8 1381.2 3040.8 1383 3043" stroke-width="5.6"/>
<path d="M1293.8 2961.2C1296.5 2967.7 1306.9 2990.2 1310 3000C1313.1 3009.8 1310 3014.2 1312.5 3020C1315 3025.8 1319.6 3027.1 1325 3035C1330.4 3042.9 1339.6 3061 1345 3067.5C1350.4 3074 1345.4 3073.8 1357.5 3073.8C1369.6 3073.8 1407.5 3068.5 1417.5 3067.5" stroke-width="4.4"/>
<path d="M1298.8 2962.5C1301.5 2969.6 1309.4 2992.9 1315 3005C1320.6 3017.1 1326.7 3025.4 1332.5 3035C1338.3 3044.6 1347.1 3057.9 1350 3062.5" stroke-width="3.1"/>
<path d="M1282.5 2982.5C1284.2 2987.1 1289.6 3002.9 1292.5 3010C1295.4 3017.1 1296.2 3020 1300 3025C1303.8 3030 1309.6 3031.7 1315 3040C1320.4 3048.3 1328.8 3066.7 1332.5 3075C1336.2 3083.3 1337.5 3085.2 1337.5 3090C1337.5 3094.8 1333.3 3101.5 1332.5 3103.8" stroke-width="3.8"/>
<path d="M1287.5 2980C1288.1 2979.2 1289.2 2971.7 1291.2 2975C1293.3 2978.3 1299.4 2994.2 1300 3000C1300.6 3005.8 1295.8 3008.3 1295 3010" stroke-width="3.8"/>
<path d="M1355 3076.2 L1416.2 3073.8" stroke-width="3.8"/>
<path d="M1290 3040C1292.9 3047.1 1301.7 3072.5 1307.5 3082.5C1313.3 3092.5 1322.1 3097.1 1325 3100" stroke-width="3.8"/>
<path d="M750.3 1969.3 L817.9 1937.2 L817.9 1971.9 L915 2023.9 L915 2103.7" stroke-width="7"/>
<path d="M817.9 2047.3 L915 2099.4" stroke-width="9"/>
<path d="M817.9 2043 L817.9 2086.3 L750.3 1969.3" stroke-width="7"/>
<path d="M817.9 1937.2 L835.3 1923.4 L835.3 1962.4 L933.2 2018.7 L933.2 2097.6 L915.9 2104.6" stroke-width="7"/>
<path d="M828.3 1934.6 L828.3 1964.1 L819.6 1968.4" stroke-width="3.5"/>
<path d="M821.4 1971.9 L917.6 2024.8 L927.2 2020.5" stroke-width="3.5"/>
<path d="M917.6 2024.8 L918.5 2096.8 L927.2 2092.4 L927.2 2020.5" stroke-width="3.5"/>
<path d="M819.6 2053.4 L828.3 2056.9 L828.3 2070.7 L819.6 2075.1" stroke-width="5"/>
<path d="M835.3 2062.1 L835.3 2075.9 L819.6 2082.9" stroke-width="5"/>
<text font-size="55" font-weight="bold" transform="matrix(0.82 0.435 0 1 799.7 2022.2)">FWD</text>
<path d="M1446.7 566.7C1447.2 559.4 1446.7 544.4 1450 523.3C1453.3 502.2 1458.9 470.6 1466.7 440C1474.4 409.4 1485.6 370 1496.7 340C1507.8 310 1520 285.6 1533.3 260C1546.7 234.4 1560 210.6 1576.7 186.7C1593.3 162.8 1615 134.4 1633.3 116.7C1651.7 98.9 1670 88.9 1686.7 80C1703.3 71.1 1714.4 66.9 1733.3 63.3C1752.2 59.7 1778.1 59.4 1800 58.3C1821.9 57.2 1854.2 56.9 1865 56.7" stroke-width="3.8"/>
<path d="M1463.3 603.3C1464.7 592.8 1467.2 564.4 1471.7 540C1476.1 515.6 1482.5 484.4 1490 456.7C1497.5 428.9 1506.1 401.7 1516.7 373.3C1527.2 345 1539.4 313.3 1553.3 286.7C1567.2 260 1583.3 236.7 1600 213.3C1616.7 190 1635 165.6 1653.3 146.7C1671.7 127.8 1692.2 111.7 1710 100C1727.8 88.3 1745 82.5 1760 76.7C1775 70.8 1793.3 66.9 1800 65" stroke-width="3.8"/>
<path d="M1503.3 661.7C1504.4 649.2 1506.1 613.6 1510 586.7C1513.9 559.7 1520 528.3 1526.7 500C1533.3 471.7 1540 446.1 1550 416.7C1560 387.2 1572.8 352.8 1586.7 323.3C1600.6 293.9 1616.1 266.7 1633.3 240C1650.6 213.3 1671.1 185 1690 163.3C1708.9 141.7 1728.3 123.9 1746.7 110C1765 96.1 1780 88.3 1800 80C1820 71.7 1855.6 63.3 1866.7 60" stroke-width="3.8"/>
<path d="M1521.7 663.3C1522.8 651.1 1524.4 616.7 1528.3 590C1532.2 563.3 1538.1 532.2 1545 503.3C1551.9 474.4 1559.7 446.7 1570 416.7C1580.3 386.7 1592.8 352.8 1606.7 323.3C1620.6 293.9 1636.1 266.1 1653.3 240C1670.6 213.9 1691.1 187.8 1710 166.7C1728.9 145.6 1748.9 126.7 1766.7 113.3C1784.4 100 1808.3 91.1 1816.7 86.7" stroke-width="3.8"/>
<path d="M1538.3 663.3C1539.7 650.6 1542.5 613.3 1546.7 586.7C1550.8 560 1556.1 532.2 1563.3 503.3C1570.6 474.4 1579.4 443.3 1590 413.3C1600.6 383.3 1612.8 352.2 1626.7 323.3C1640.6 294.4 1656.1 266.1 1673.3 240C1690.6 213.9 1711.7 187.2 1730 166.7C1748.3 146.1 1766.1 129.4 1783.3 116.7C1800.6 103.9 1816.7 96.7 1833.3 90C1850 83.3 1875 78.9 1883.3 76.7" stroke-width="3.8"/>
<path d="M1556.7 663.3C1558.1 651.1 1560.8 616.1 1565 590C1569.2 563.9 1574.4 535.6 1581.7 506.7C1588.9 477.8 1598.1 446.1 1608.3 416.7C1618.6 387.2 1629.7 358.3 1643.3 330C1656.9 301.7 1672.8 272.8 1690 246.7C1707.2 220.6 1728.3 193.9 1746.7 173.3C1765 152.8 1783.3 136.1 1800 123.3C1816.7 110.6 1838.9 101.1 1846.7 96.7" stroke-width="3.8"/>
<path d="M1846.7 120C1840.6 124.4 1824.4 133.3 1810 146.7C1795.6 160 1777.2 177.8 1760 200C1742.8 222.2 1722.2 252.2 1706.7 280C1691.1 307.8 1678.3 337.2 1666.7 366.7C1655 396.1 1645 427.8 1636.7 456.7C1628.3 485.6 1621.9 512.2 1616.7 540C1611.4 567.8 1607.8 597.8 1605 623.3C1602.2 648.9 1600.9 673.9 1600 693.3C1599.1 712.8 1599.3 726.7 1599.3 740C1599.3 753.3 1599.1 757.8 1600 773.3C1600.9 788.9 1604.2 823.3 1605 833.3" stroke-width="2.5"/>
<path d="M1846.7 135C1843.3 137.5 1837.2 140.3 1826.7 150C1816.1 159.7 1798.9 174.4 1783.3 193.3C1767.8 212.2 1748.3 238.9 1733.3 263.3C1718.3 287.8 1705.6 312.2 1693.3 340C1681.1 367.8 1669.4 400.6 1660 430C1650.6 459.4 1643.1 487.2 1636.7 516.7C1630.3 546.1 1625.3 577.2 1621.7 606.7C1618.1 636.1 1616.1 671.1 1615 693.3C1613.9 715.6 1614.8 725 1615 740C1615.2 755 1614.7 763.9 1616 783.3C1617.3 802.8 1621.6 844.4 1622.7 856.7" stroke-width="3.8"/>
<path d="M1846.7 153.3C1841.1 157.8 1826.7 165.6 1813.3 180C1800 194.4 1781.7 217.2 1766.7 240C1751.7 262.8 1736.7 288.9 1723.3 316.7C1710 344.4 1696.7 377.2 1686.7 406.7C1676.7 436.1 1670.3 460 1663.3 493.3C1656.4 526.7 1649.2 573.3 1645 606.7C1640.8 640 1639.6 671.1 1638.3 693.3C1637.1 715.6 1637.2 725 1637.3 740C1637.5 755 1637.8 763.9 1639.3 783.3C1640.9 802.8 1645.4 844.4 1646.7 856.7" stroke-width="3.8"/>
<path d="M1600 880C1601.4 890 1604.4 921.1 1608.3 940C1612.2 958.9 1616.9 975 1623.3 993.3C1629.7 1011.7 1636.7 1030 1646.7 1050C1656.7 1070 1670.6 1095 1683.3 1113.3C1696.1 1131.7 1713.3 1151.4 1723.3 1160C1733.3 1168.6 1740 1164.2 1743.3 1165" stroke-width="3.8"/>
<path d="M1626.7 878.3C1627.8 888.6 1629.4 919.7 1633.3 940C1637.2 960.3 1643.9 981.7 1650 1000C1656.1 1018.3 1662.2 1033.9 1670 1050C1677.8 1066.1 1686.1 1081.7 1696.7 1096.7C1707.2 1111.7 1720.6 1127.8 1733.3 1140C1746.1 1152.2 1758.9 1163.6 1773.3 1170C1787.8 1176.4 1812.2 1176.9 1820 1178.3" stroke-width="3.8"/>
<path d="M1648.3 873.3C1649.7 882.8 1652.5 910.6 1656.7 930C1660.8 949.4 1667.2 972.8 1673.3 990C1679.4 1007.2 1685.6 1018.9 1693.3 1033.3C1701.1 1047.8 1710 1062.8 1720 1076.7C1730 1090.6 1743.9 1106.1 1753.3 1116.7C1762.8 1127.2 1772.8 1136.1 1776.7 1140" stroke-width="3.8"/>
<path d="M1676.7 943.3C1674.7 944.4 1665 941.7 1665 950C1665 958.3 1673.1 983.3 1676.7 993.3C1680.3 1003.3 1685 1007.2 1686.7 1010" stroke-width="3.8"/>
<path d="M1653.3 1040C1658.3 1051.1 1671.7 1086.7 1683.3 1106.7C1695 1126.7 1710 1146.7 1723.3 1160C1736.7 1173.3 1747.8 1180.8 1763.3 1186.7C1778.9 1192.5 1799.4 1195 1816.7 1195C1833.9 1195 1853.3 1190.8 1866.7 1186.7C1880 1182.5 1891.7 1172.8 1896.7 1170" stroke-width="3.8"/>
<path d="M1776.7 1166.7C1786.1 1167.5 1813.9 1172.8 1833.3 1171.7C1852.8 1170.6 1883.3 1161.9 1893.3 1160" stroke-width="3.8"/>
<path d="M1806.7 970 L1785 1133.3" stroke-width="3.8"/>
<path d="M1855 940C1859.2 962.2 1874.3 1038.3 1880 1073.3C1885.7 1108.3 1887.8 1137.2 1889.3 1150" stroke-width="3.8"/>
<path d="M1790 1151.7 L1888.3 1153.3" stroke-width="6.2"/>
<path d="M1900 940 L1898.3 1006.7" stroke-width="2.5"/>
<path d="M1763.3 808.3 L1745 836.7" stroke-width="3.1"/>
<path d="M1736.7 856.7C1732.2 862.8 1717.8 883.3 1710 893.3C1702.2 903.3 1693.3 912.8 1690 916.7" stroke-width="3.1"/>
<path d="M1708.3 893.3 L1748.3 894" stroke-width="2.5"/>
<path d="M1783.3 898.3C1788.1 899.7 1807.8 898.6 1811.7 906.7C1815.6 914.7 1807.5 940 1806.7 946.7" stroke-width="3.1"/>
<path d="M1816.7 495C1813.9 502.5 1805 521.4 1800 540C1795 558.6 1790 584.4 1786.7 606.7C1783.3 628.9 1780.8 653.9 1780 673.3C1779.2 692.8 1781.7 712.2 1781.7 723.3C1781.7 734.4 1779.7 731.7 1780 740C1780.3 748.3 1781.9 765.6 1783.3 773.3C1784.7 781.1 1787.5 784.4 1788.3 786.7" stroke-width="3.8"/>
<path d="M1830 493.3C1827.2 501.1 1818.3 521.1 1813.3 540C1808.3 558.9 1803.6 584.4 1800 606.7C1796.4 628.9 1793.3 653.3 1791.7 673.3C1790 693.3 1790 715.6 1790 726.7C1790 737.8 1790.6 732.2 1791.7 740C1792.8 747.8 1795.3 765.3 1796.7 773.3C1798.1 781.4 1799.4 785.8 1800 788.3" stroke-width="3.8"/>
<path d="M1870 500C1866.1 510 1852.2 536.7 1846.7 560C1841.1 583.3 1838.6 621.7 1836.7 640C1834.7 658.3 1835.3 665 1835 670" stroke-width="3.8"/>
<path d="M1888.3 501.7C1884.2 511.4 1869.4 536.9 1863.3 560C1857.2 583.1 1853.9 620 1851.7 640C1849.4 660 1850.3 673.3 1850 680" stroke-width="3.8"/>
<path d="M1825 738.3C1826.9 743.1 1833.9 756.7 1836.7 766.7C1839.4 776.7 1839.7 787.8 1841.7 798.3C1843.6 808.9 1845.3 820.3 1848.3 830C1851.4 839.7 1854.7 848.3 1860 856.7C1865.3 865 1871.9 872.2 1880 880C1888.1 887.8 1900 896.1 1908.3 903.3C1916.7 910.6 1924.4 915.6 1930 923.3C1935.6 931.1 1938.3 940 1941.7 950C1945 960 1948.1 971.9 1950 983.3C1951.9 994.7 1952.8 1012.5 1953.3 1018.3" stroke-width="7"/>
<rect x="1818.5" y="732.8" width="13" height="13" fill="#fff" stroke-width="6.5" stroke-linejoin="miter" transform="rotate(-25 1825.0 739.3)"/>
<rect x="1835.2" y="791.8" width="13" height="13" fill="#fff" stroke-width="6.5" stroke-linejoin="miter" transform="rotate(0 1841.7 798.3)"/>
<rect x="1854.5" y="849.5" width="13" height="13" fill="#fff" stroke-width="6.5" stroke-linejoin="miter" transform="rotate(-32 1861.0 856.0)"/>
<rect x="1901.8" y="895.8" width="13" height="13" fill="#fff" stroke-width="6.5" stroke-linejoin="miter" transform="rotate(-35 1908.3 902.3)"/>
<rect x="1945.8" y="1013.5" width="13" height="13" fill="#fff" stroke-width="6.5" stroke-linejoin="miter" transform="rotate(0 1952.3 1020.0)"/>
<path d="M1446.7 660 L1813.3 736.7" stroke-width="3.8"/>
<path d="M1446.7 784 L1833.3 802.3" stroke-width="3.8"/>
<path d="M1450 897.3 L1843.3 830" stroke-width="3.8"/>
<path d="M1446.7 1026.7 L1851.7 861.7" stroke-width="3.8"/>
<path d="M1446.7 1156 L1900 906.7" stroke-width="3.8"/>
<path d="M1446 1397 L1943.5 1028" stroke-width="3.8"/>
<path d="M1866.7 65 L1910 65" stroke-width="3.8"/>
<path d="M1923.3 70C1927.2 71.4 1939.4 75 1946.7 78.3C1953.9 81.7 1963.3 88.1 1966.7 90" stroke-width="4.4"/>
<path d="M1923.3 98.3C1930.6 97.5 1952.8 92.2 1966.7 93.3C1980.6 94.4 1992.8 98.9 2006.7 105C2020.6 111.1 2036.1 119.2 2050 130C2063.9 140.8 2078.3 153.9 2090 170C2101.7 186.1 2110.6 205 2120 226.7C2129.4 248.3 2139.4 278.3 2146.7 300C2153.9 321.7 2158.9 340.3 2163.3 356.7C2167.8 373.1 2171.7 391.4 2173.3 398.3" stroke-width="3.8"/>
<path d="M1846.7 130 L1896.7 90 L1920 91.7 L1923.3 98.3" stroke-width="3.8"/>
<path d="M1846.7 130 L1865 400" stroke-width="3.8"/>
<path d="M1865 120 L1888.3 401.7" stroke-width="4.4"/>
<path d="M1900 100 L1906.7 101.7 L1935 353.3" stroke-width="2.5"/>
<path d="M1920 91.7 L1955 350" stroke-width="4.4"/>
<path d="M1865 120 L1900 100" stroke-width="3.8"/>
<path d="M1826.7 170 L1820 390 L1889.3 403.3" stroke-width="3.8"/>
<path d="M1870 156.7C1873.3 155 1886.1 151.1 1890 146.7C1893.9 142.2 1893.6 133.1 1893.3 130C1893.1 126.9 1889.2 128.6 1888.3 128.3" stroke-width="3.8"/>
<path d="M1875 215C1878.6 213.1 1892.2 208.1 1896.7 203.3C1901.1 198.6 1901.7 190.6 1901.7 186.7C1901.7 182.8 1897.5 181.1 1896.7 180" stroke-width="3.8"/>
<path d="M1883.3 266.7C1886.7 263.9 1899.7 255.6 1903.3 250C1906.9 244.4 1905.8 237.2 1905 233.3C1904.2 229.4 1899.4 227.8 1898.3 226.7" stroke-width="3.8"/>
<path d="M1890 313.3C1893.9 310 1908.9 299.4 1913.3 293.3C1917.8 287.2 1916.9 280.6 1916.7 276.7C1916.4 272.8 1912.5 271.1 1911.7 270" stroke-width="3.8"/>
<path d="M1890 360 L1933.3 336.7" stroke-width="3.8"/>
<path d="M1890 383.3 L1935 351.7" stroke-width="3.8"/>
<path d="M1943.3 348.3C1948.3 349.2 1965.6 350.8 1973.3 353.3C1981.1 355.8 1985.8 360 1990 363.3C1994.2 366.7 1996.9 371.7 1998.3 373.3" stroke-width="3.8"/>
<path d="M1955 368.3 L2000 375 L2126.7 405" stroke-width="4.4"/>
<path d="M1916.7 385 L2080 401.7" stroke-width="3.8"/>
<path d="M1901.7 388.3C1904.2 386.4 1912.2 378.3 1916.7 376.7C1921.1 375 1926.4 378.1 1928.3 378.3" stroke-width="3.8"/>
<path d="M1895 406.7C1901.4 406.4 1917.5 403.1 1933.3 405C1949.2 406.9 1967.8 413.1 1990 418.3C2012.2 423.6 2048.9 433.3 2066.7 436.7C2084.4 440 2091.7 438.1 2096.7 438.3" stroke-width="3.8"/>
<path d="M1895 406.7C1895.3 410.3 1895.3 424.2 1896.7 428.3C1898.1 432.5 1896.1 431.7 1903.3 431.7C1910.6 431.7 1930 427.2 1940 428.3C1950 429.4 1956.7 433.6 1963.3 438.3C1970 443.1 1977.2 453.6 1980 456.7" stroke-width="3.8"/>
<path d="M2006.7 460C2011.1 461.1 2024.4 466.4 2033.3 466.7C2042.2 466.9 2054.4 465 2060 461.7C2065.6 458.3 2065.6 449.2 2066.7 446.7" stroke-width="4.4"/>
<ellipse cx="2155" cy="409.3" rx="15" ry="6" stroke-width="3.8"/>
<path d="M2128.3 406.7C2130.3 405.4 2132.5 400.7 2140 399.3C2147.5 397.9 2166.1 396.6 2173.3 398.3C2180.6 400.1 2182.2 405.3 2183.3 410C2184.4 414.7 2180.6 423.9 2180 426.7" stroke-width="3.8"/>
<ellipse cx="2088.3" cy="447.3" rx="15" ry="6.7" stroke-width="3.8"/>
<ellipse cx="2089.3" cy="449.3" rx="23.3" ry="12" stroke-width="3.8"/>
<path d="M2113.3 433.3C2116.1 431.7 2126.7 427.8 2130 423.3C2133.3 418.9 2132.8 409.4 2133.3 406.7" stroke-width="3.8"/>
<path d="M2111.7 451.7 L2166.7 423.3" stroke-width="3.8"/>
<path d="M2106.7 465C2111.1 463.1 2121.1 459.2 2133.3 453.3C2145.6 447.5 2172.2 433.9 2180 430" stroke-width="3.8"/>
<path d="M2066.7 456.7C2066.1 458.9 2061.7 466.1 2063.3 470C2065 473.9 2070.6 478.1 2076.7 480C2082.8 481.9 2094.4 483.3 2100 481.7C2105.6 480 2108.3 471.9 2110 470" stroke-width="3.8"/>
<path d="M1843.3 476.7C1847.2 477.8 1840.6 483.9 1866.7 483.3C1892.8 482.8 1967.2 476.1 2000 473.3C2032.8 470.6 2052.8 467.8 2063.3 466.7" stroke-width="3.8"/>
<path d="M1826.7 511.7C1830.6 510 1815.6 505.6 1850 501.7C1884.4 497.8 1995.6 491.1 2033.3 488.3C2071.1 485.6 2065.6 485.3 2076.7 485C2087.8 484.7 2096.1 486.4 2100 486.7" stroke-width="3.8"/>
<path d="M1836.7 456.7 L1873.3 405" stroke-width="3.8"/>
<path d="M1850 456.7 L1883.3 406.7" stroke-width="3.8"/>
<path d="M1886.7 476.7C1890.6 471.1 1899.4 451.1 1910 443.3C1920.6 435.6 1943.3 432.2 1950 430" stroke-width="3.8"/>
<path d="M1901.7 476.7C1905.8 472.8 1917.5 459.4 1926.7 453.3C1935.8 447.2 1951.7 442.2 1956.7 440" stroke-width="3.8"/>
<path d="M2226.7 476.7C2211.1 485 2158.9 512.2 2133.3 526.7C2107.8 541.1 2090.6 547.8 2073.3 563.3C2056.1 578.9 2041.1 601.7 2030 620C2018.9 638.3 2013.9 656.1 2006.7 673.3C1999.4 690.6 1990.6 710.3 1986.7 723.3C1982.8 736.3 1983.9 746.7 1983.3 751.3" stroke-width="4.4"/>
<path d="M2176.7 398.3C2178.3 400.3 2181.1 403.1 2186.7 410C2192.2 416.9 2205 432.2 2210 440C2215 447.8 2213.9 450.6 2216.7 456.7C2219.4 462.8 2225 473.3 2226.7 476.7" stroke-width="3.8"/>
<path d="M2271.7 450 L2226.7 476.7" stroke-width="3.8"/>
<path d="M2110 470C2113.9 467.8 2125 459.7 2133.3 456.7C2141.7 453.6 2150.8 452.2 2160 451.7C2169.2 451.1 2183.6 453.1 2188.3 453.3" stroke-width="3.8"/>
<path d="M2116.7 483.3C2120.6 481.1 2131.7 473.3 2140 470C2148.3 466.7 2157.8 464.2 2166.7 463.3C2175.6 462.5 2188.9 464.7 2193.3 465" stroke-width="3.8"/>
<path d="M2088.3 516.7C2090.3 512.8 2095.3 500.6 2100 493.3C2104.7 486.1 2113.9 476.7 2116.7 473.3" stroke-width="3.8"/>
<path d="M2101.7 518.3C2103.6 514.7 2108.1 503.6 2113.3 496.7C2118.6 489.7 2130 480 2133.3 476.7" stroke-width="3.8"/>
<path d="M2188.3 403.3C2190.6 398.3 2200.3 388.3 2210 383.3C2219.7 378.3 2240.3 373.3 2246.7 373.3C2253.1 373.3 2252.2 378.9 2248.3 383.3C2244.4 387.8 2231.9 395 2223.3 400C2214.7 405 2202.5 412.8 2196.7 413.3C2190.8 413.9 2186.1 408.3 2188.3 403.3Z" stroke-width="3.8"/>
<path d="M2248.3 383.3C2251.4 388.3 2262.8 402.2 2266.7 413.3C2270.6 424.4 2270.8 443.9 2271.7 450" stroke-width="3.8"/>
<path d="M2270 410C2273.1 404.4 2283.9 388.1 2293.3 380C2302.8 371.9 2316.9 365.3 2326.7 361.7C2336.4 358.1 2346.9 357.2 2351.7 358.3C2356.4 359.4 2357.5 363.6 2355 368.3C2352.5 373.1 2345.8 380.8 2336.7 386.7C2327.5 392.5 2310.3 398.9 2300 403.3C2289.7 407.8 2280 412.2 2275 413.3C2270 414.4 2266.9 415.6 2270 410Z" stroke-width="3.8"/>
<path d="M2355 368.3C2356.4 374.7 2362.5 393.1 2363.3 406.7C2364.2 420.3 2362.8 437.2 2360 450C2357.2 462.8 2352.8 473.9 2346.7 483.3C2340.6 492.8 2330.3 501.1 2323.3 506.7C2316.4 512.2 2308.1 515 2305 516.7" stroke-width="3.8"/>
<path d="M2275 413.3C2276.7 415.6 2283.6 422.2 2285 426.7C2286.4 431.1 2285.6 436.1 2283.3 440C2281.1 443.9 2273.6 448.3 2271.7 450" stroke-width="3.8"/>
<path d="M2250 480C2251.7 475 2255.6 472.2 2263.3 470C2271.1 467.8 2289.7 465 2296.7 466.7C2303.6 468.3 2303.3 473.3 2305 480C2306.7 486.7 2307.5 499.4 2306.7 506.7C2305.8 513.9 2304.4 519.7 2300 523.3C2295.6 526.9 2286.1 528.9 2280 528.3C2273.9 527.8 2267.8 524.7 2263.3 520C2258.9 515.3 2255.6 506.7 2253.3 500C2251.1 493.3 2248.3 485 2250 480Z" stroke-width="3.8"/>
<path d="M2346.7 485 L2378.7 486" stroke-width="4.4"/>
<path d="M1888.3 636.7C1888.1 623.9 1887.5 602.8 1891.7 590C1895.8 577.2 1904.7 566.9 1913.3 560C1921.9 553.1 1932.2 550.3 1943.3 548.3C1954.4 546.4 1969.4 546.4 1980 548.3C1990.6 550.3 1999.4 553.6 2006.7 560C2013.9 566.4 2019.4 576.1 2023.3 586.7C2027.2 597.2 2030.6 611.7 2030 623.3C2029.4 635 2025 647.2 2020 656.7C2015 666.1 2008.9 672.8 2000 680C1991.1 687.2 1977.8 696.4 1966.7 700C1955.6 703.6 1943.3 703.3 1933.3 701.7C1923.3 700 1913.3 695.8 1906.7 690C1900 684.2 1896.4 675.6 1893.3 666.7C1890.3 657.8 1888.6 649.4 1888.3 636.7Z" stroke-width="4.4"/>
<path d="M1903.3 620C1904.4 614.4 1905 595.6 1910 586.7C1915 577.8 1924.4 570.6 1933.3 566.7C1942.2 562.8 1958.3 563.9 1963.3 563.3" stroke-width="2.5"/>
<path d="M1903.3 636.7C1904.4 640 1904.4 650.6 1910 656.7C1915.6 662.8 1932.2 670.6 1936.7 673.3" stroke-width="3.8"/>
<path d="M1991.7 580C1993.1 583.3 1998.6 593.3 2000 600C2001.4 606.7 2000 616.7 2000 620" stroke-width="3.8"/>
<path d="M1993.3 641.7 L1978.3 661.7" stroke-width="3.8"/>
<path d="M1840 476.7C1836.7 484.4 1825.6 504.4 1820 523.3C1814.4 542.2 1810 572.8 1806.7 590C1803.3 607.2 1801.1 620.6 1800 626.7" stroke-width="3.8"/>
<path d="M1818.3 495C1816.4 502.5 1809.7 526.9 1806.7 540C1803.6 553.1 1801.1 567.8 1800 573.3" stroke-width="3.8"/>
<path d="M1870 503.3C1866.7 512.2 1855 536.7 1850 556.7C1845 576.7 1842.2 604.4 1840 623.3C1837.8 642.2 1837.2 662.2 1836.7 670" stroke-width="3.8"/>
<path d="M1888.3 503.3C1884.2 512.8 1869.2 540 1863.3 560C1857.5 580 1855.3 603.6 1853.3 623.3C1851.4 643.1 1851.9 669.2 1851.7 678.3" stroke-width="3.8"/>
<path d="M2256.7 533.3 L2198.3 570" stroke-width="3.8"/>
<path d="M2170 581.7C2170.6 580.3 2171.7 574.7 2173.3 573.3C2175 571.9 2178.3 571.1 2180 573.3C2181.7 575.6 2181.1 579.4 2183.3 586.7C2185.6 593.9 2187.8 607.2 2193.3 616.7C2198.9 626.1 2210.3 637.8 2216.7 643.3C2223.1 648.9 2229.2 648.9 2231.7 650" stroke-width="3.8"/>
<path d="M2191.7 576.7C2193.1 578.9 2196.4 585 2200 590C2203.6 595 2208.9 601.1 2213.3 606.7C2217.8 612.2 2223.3 616.7 2226.7 623.3C2230 630 2232.2 642.8 2233.3 646.7" stroke-width="3.8"/>
<path d="M2176.7 606.7 L2170 601.7 L2153.3 613.3 L2190 673.3" stroke-width="4.4"/>
<path d="M2190 673.3C2191.4 678.9 2196.7 693.7 2198.3 706.7C2200 719.7 2199.7 743.9 2200 751.3" stroke-width="3.8"/>
<path d="M2186.7 653.3C2187.2 650.6 2187.8 640.3 2190 636.7C2192.2 633.1 2198.3 632.5 2200 631.7" stroke-width="3.8"/>
<path d="M2280 620 L2271.7 586.7 L2306.7 570 L2315 546.7 L2298.3 550" stroke-width="3.8"/>
<path d="M2245 636.7 L2263.3 593.3" stroke-width="3.8"/>
<path d="M2300 650C2300 642.2 2305 631.4 2310 626.7C2315 621.9 2323.9 619.4 2330 621.7C2336.1 623.9 2344.2 634.2 2346.7 640C2349.2 645.8 2351.1 651.1 2345 656.7C2338.9 662.2 2317.5 674.4 2310 673.3C2302.5 672.2 2300 657.8 2300 650Z" stroke-width="3.8"/>
<path d="M2335 588.3 L2378.7 595" stroke-width="4.4"/>
<path d="M2340 573.3C2343.3 571.7 2353.6 564.4 2360 563.3C2366.4 562.2 2375.6 566.1 2378.7 566.7" stroke-width="3.8"/>
<path d="M2373.3 490 L2373.3 500" stroke-width="6.2"/>
<path d="M2086.7 661.7C2088.3 655.8 2091.1 635.3 2096.7 626.7C2102.2 618.1 2111.9 613.1 2120 610C2128.1 606.9 2140.8 608.6 2145 608.3" stroke-width="2.5"/>
<path d="M2065 738.3C2068.1 730.8 2078.6 701.7 2083.3 693.3C2088.1 685 2089.4 686.7 2093.3 688.3C2097.2 690 2102.2 695.3 2106.7 703.3C2111.1 711.4 2117.8 728.7 2120 736.7C2122.2 744.7 2120 748.9 2120 751.3" stroke-width="4.4"/>
<path d="M2183.3 653.3C2185.6 660 2194.2 677 2196.7 693.3C2199.2 709.7 2198.1 741.7 2198.3 751.3" stroke-width="3.8"/>
<path d="M2223.3 673.3 L2216.7 751.3" stroke-width="3.8"/>
<path d="M2236.7 676.7 L2233.3 751.3" stroke-width="3.8"/>
<path d="M1800 710C1803.3 709.4 1814.4 705.6 1820 706.7C1825.6 707.8 1831.1 715 1833.3 716.7" stroke-width="3.8"/>
<path d="M1838.3 698.3 L1843.3 725 L1855 725 L1851.7 698.3" stroke-width="3.8"/>
<path d="M1855 716.7 L1881.7 716.7 L1893.3 733.3 L1921.7 731.7 L1923.3 751.3" stroke-width="3.8"/>
<path d="M2233.3 645C2236.8 645.1 2247.5 648.2 2254.3 645.7C2261.2 643.2 2269.9 634.7 2274.3 630C2278.7 625.3 2277.7 623.6 2280.7 617.3C2283.6 611.1 2287.8 600.7 2292 592.3C2296.2 584 2301.1 574.4 2305.7 567.3C2310.2 560.3 2314.9 554.6 2319.3 550C2323.7 545.4 2327.4 542.9 2332 540C2336.6 537.1 2341.2 534.3 2347 532.3C2352.8 530.3 2360.3 528.2 2367 528C2373.7 527.8 2381.2 528.8 2387 531C2392.8 533.2 2397.8 536.6 2402 541C2406.2 545.4 2409.5 550.8 2412 557.3C2414.5 563.8 2415.5 569.6 2417 580C2418.5 590.4 2419.8 610 2421 620C2422.2 630 2422.6 635.4 2424.3 640C2426.1 644.6 2430.2 646.1 2431.3 647.3" stroke-width="4.4"/>
<path d="M2431.3 647.3C2433.1 646.5 2437.7 646.1 2442 642.3C2446.3 638.6 2451.2 632.1 2457 625C2462.8 617.9 2470.8 607.3 2477 600C2483.2 592.7 2488.9 585.3 2494.3 581.3C2499.7 577.4 2504.3 576.6 2509.3 576.3C2514.3 576.1 2519.3 577.1 2524.3 580C2529.3 582.9 2535.2 591.2 2539.3 593.7C2543.5 596.2 2546.8 596.4 2549.3 595C2551.8 593.6 2554.3 588.6 2554.3 585C2554.3 581.4 2550.2 575.6 2549.3 573.7" stroke-width="4.4"/>
<path d="M2188.3 655C2193.1 657.5 2208.1 666.7 2217 670C2225.9 673.3 2233.7 674.6 2242 675C2250.3 675.4 2259.1 674.8 2267 672.3C2274.9 669.8 2283.9 664.2 2289.3 660C2294.7 655.8 2294.7 654.4 2299.3 647.3C2303.9 640.2 2311.8 627.7 2317 617.3C2322.2 606.9 2326.5 593.7 2330.7 585C2334.8 576.3 2337.6 569.8 2342 565C2346.4 560.2 2352 557.8 2357 556.3C2362 554.9 2367.4 555.3 2372 556.3C2376.6 557.3 2381.4 559.2 2384.3 562.3C2387.2 565.4 2388.3 566.7 2389.3 575C2390.4 583.3 2390.2 601.5 2390.7 612.3C2391.1 623.2 2390.6 631.7 2392 640C2393.4 648.3 2395.6 656.5 2399.3 662.3C2403.1 668.2 2408.9 672.1 2414.3 675C2419.8 677.9 2426.2 680 2432 680C2437.8 680 2443.9 677.9 2449.3 675C2454.7 672.1 2458.9 669 2464.3 662.3C2469.8 655.7 2476.2 643.3 2482 635C2487.8 626.7 2494.3 616.5 2499.3 612.3C2504.3 608.2 2508.7 608.3 2512 610C2515.3 611.7 2515.6 620.1 2519.3 622.3C2523.1 624.6 2530.6 626.3 2534.3 623.7C2538.1 621.1 2540.7 609.5 2542 606.7" stroke-width="4.4"/>
<path d="M2378.7 486 L2512 496.7" stroke-width="4.4"/>
<path d="M2418.7 586.7C2420.3 588.9 2426.2 594.4 2428.7 600C2431.2 605.6 2433.1 612.8 2433.7 620C2434.2 627.2 2432.3 639.4 2432 643.3" stroke-width="5"/>
<path d="M2426 628.3 L2431.3 645 L2436 630" stroke-width="8.8"/>
<path d="M2338.7 566.7 L2385.3 571.7" stroke-width="4.4"/>
<path d="M2335.3 588.3 L2387 593.3" stroke-width="4.4"/>
<path d="M2373.7 490 L2373.7 500" stroke-width="6.2"/>
<path d="M2383.7 508.3C2387.8 507.8 2402.6 505 2408.7 505C2414.8 505 2420.9 506.7 2420.3 508.3C2419.8 510 2412.8 513.1 2405.3 515C2397.8 516.9 2380.3 519.2 2375.3 520" stroke-width="3.8"/>
<path d="M2512 496.7C2515.3 495 2525.3 488.9 2532 486.7C2538.7 484.4 2548.7 483.9 2552 483.3"/>
<path d="M2512 496.7 L2578.7 497.3"/>
<path d="M2502 513.3 L2518.7 508.3 L2582 528.3" stroke-width="2.5"/>
<path d="M2492 526.7 L2582 543.3"/>
<path d="M2518.7 508.3C2522 506.9 2529.2 500 2538.7 500C2548.1 500 2569.2 506.9 2575.3 508.3" stroke-width="2.5"/>
<path d="M2512 500C2507 506.7 2491.4 525.6 2482 540C2472.6 554.4 2462.8 571.1 2455.3 586.7C2447.8 602.2 2440.1 625.6 2437 633.3" stroke-width="3.8"/>
<path d="M2502 533.3C2497 542.2 2478.1 573.9 2472 586.7C2465.9 599.4 2466.4 606.1 2465.3 610" stroke-width="2.5"/>
<path d="M2518.7 541.7 L2498.7 576.7"/>
<path d="M2425.3 683.3C2424.5 691.7 2420.9 715 2420.3 733.3C2419.8 751.7 2421.7 783.3 2422 793.3" stroke-width="3.8"/>
<path d="M2445.3 680C2444.2 688.9 2439.2 714.4 2438.7 733.3C2438.1 752.2 2441.4 783.3 2442 793.3" stroke-width="2.2"/>
<path d="M2462 666.7C2460.6 677.8 2454.5 712.2 2453.7 733.3C2452.8 754.4 2456.4 783.3 2457 793.3" stroke-width="2.2"/>
<path d="M2480.3 663.3C2478.7 675 2471.4 711.1 2470.3 733.3C2469.2 755.6 2473.1 786.1 2473.7 796.7" stroke-width="2.2"/>
<path d="M2488.7 693.3C2487.6 702.8 2482.6 732.8 2482 750C2481.4 767.2 2484.8 788.9 2485.3 796.7"/>
<path d="M2422 790 L2533.7 805" stroke-width="4.4"/>
<path d="M2425.3 811.7 L2542 825" stroke-width="3.8"/>
<path d="M2425.3 813.3C2426.2 818.9 2428.1 837.8 2430.3 846.7C2432.6 855.6 2437.3 863.3 2438.7 866.7"/>
<path d="M2445.3 816.7C2447 822.2 2452.6 839.4 2455.3 850C2458.1 860.6 2460.9 875 2462 880" stroke-width="2.2"/>
<path d="M2467 820 L2475.3 856.7" stroke-width="2.2"/>
<path d="M2485.3 823.3 L2490.3 856.7" stroke-width="2.2"/>
<path d="M2513.7 855C2514.5 856.9 2515.9 863.6 2518.7 866.7C2521.4 869.7 2527.3 868.3 2530.3 873.3C2533.4 878.3 2534.5 889.4 2537 896.7C2539.5 903.9 2542.8 912.5 2545.3 916.7C2547.8 920.8 2550.9 920.8 2552 921.7" stroke-width="3.8"/>
<path d="M2548.7 571.7C2549.5 574.2 2555.3 578.6 2553.7 586.7C2552 594.7 2542.3 611.1 2538.7 620C2535.1 628.9 2535.1 633.1 2532 640C2528.9 646.9 2522.3 658.1 2520.3 661.7" stroke-width="3.8"/>
<path d="M2248.7 910C2249.5 902.8 2252 885 2253.7 866.7C2255.3 848.3 2255.6 815.6 2258.7 800C2261.7 784.4 2265.3 779.7 2272 773.3C2278.7 766.9 2288.7 762.8 2298.7 761.7C2308.7 760.6 2320.9 763.1 2332 766.7C2343.1 770.3 2355.3 776.1 2365.3 783.3C2375.3 790.6 2382 797.8 2392 810C2402 822.2 2415.9 845 2425.3 856.7C2434.8 868.3 2440.9 872.8 2448.7 880C2456.4 887.2 2464.8 896.1 2472 900C2479.2 903.9 2485.9 904.4 2492 903.3C2498.1 902.2 2502.6 895 2508.7 893.3C2514.8 891.7 2523.7 892.8 2528.7 893.3C2533.7 893.9 2537 896.1 2538.7 896.7" stroke-width="4.4"/>
<path d="M2278.7 883.3C2279.8 875 2282.8 847.2 2285.3 833.3C2287.8 819.4 2289.2 807.2 2293.7 800C2298.1 792.8 2305.1 790.6 2312 790C2318.9 789.4 2328.1 792.8 2335.3 796.7C2342.6 800.6 2347.6 805 2355.3 813.3C2363.1 821.7 2373.1 834.4 2382 846.7C2390.9 858.9 2399.8 875.6 2408.7 886.7C2417.6 897.8 2427 905 2435.3 913.3C2443.7 921.7 2450.9 930.8 2458.7 936.7C2466.4 942.5 2473.7 947.2 2482 948.3C2490.3 949.4 2500.3 946.9 2508.7 943.3C2517 939.7 2525.3 930.6 2532 926.7C2538.7 922.8 2545.9 921.1 2548.7 920" stroke-width="4.4"/>
<path d="M2248.7 910C2247.6 911.7 2244.8 920 2242 920C2239.2 920 2236.4 918.9 2232 910C2227.6 901.1 2218.1 873.9 2215.3 866.7" stroke-width="4.4"/>
<path d="M2278.7 883.3C2277.6 891.7 2275.3 921.1 2272 933.3C2268.7 945.6 2264.2 952.5 2258.7 956.7C2253.1 960.8 2245.3 960.6 2238.7 958.3C2232 956.1 2224.2 950.3 2218.7 943.3C2213.1 936.4 2210.9 926.7 2205.3 916.7C2199.8 906.7 2190.3 892.8 2185.3 883.3C2180.3 873.9 2176.2 867.5 2175.3 860C2174.5 852.5 2179.5 841.9 2180.3 838.3" stroke-width="4.4"/>
<path d="M2283.7 871.7 L2332 880 L2425.3 900" stroke-width="4.4"/>
<path d="M2285.3 881.7 L2328.7 876.7" stroke-width="3.8"/>
<path d="M2333.7 880 L2342 896.7 L2365.3 903.3 L2372 890 L2385.3 886.7" stroke-width="3.8"/>
<path d="M2302 823.3C2305.3 816.7 2323.1 817.2 2332 820C2340.9 822.8 2354.8 834.4 2355.3 840C2355.9 845.6 2342.6 850 2335.3 853.3C2328.1 856.7 2317.6 865 2312 860C2306.4 855 2298.7 830 2302 823.3Z" stroke-width="3.8"/>
<ellipse cx="2318.7" cy="846.7" rx="14" ry="12" stroke-width="3.8"/>
<path d="M2330.3 881.7C2326.2 890.3 2316.7 919.2 2305.3 933.3C2293.9 947.5 2269.2 961.1 2262 966.7" stroke-width="3.8"/>
<path d="M2173.7 570C2174.5 573.9 2176.4 583.3 2178.7 593.3C2180.9 603.3 2185.3 617.8 2187 630C2188.7 642.2 2187 652.2 2188.7 666.7C2190.3 681.1 2195.9 700 2197 716.7C2198.1 733.3 2197.3 751.1 2195.3 766.7C2193.4 782.2 2187.8 798.1 2185.3 810C2182.8 821.9 2181.2 833.6 2180.3 838.3" stroke-width="4.4"/>
<path d="M2172 573.3C2172.6 572.2 2173.7 566.7 2175.3 566.7C2177 566.7 2178.1 563.3 2182 573.3C2185.9 583.3 2190.3 612.5 2198.7 626.7C2207 640.8 2226.4 653.1 2232 658.3" stroke-width="3.8"/>
<path d="M2223.7 675C2222.6 684.7 2217.3 715.3 2217 733.3C2216.7 751.4 2218.4 765.6 2222 783.3C2225.6 801.1 2234.8 826.1 2238.7 840C2242.6 853.9 2244.2 862.2 2245.3 866.7" stroke-width="3.8"/>
<path d="M2237 678.3C2235.9 687.5 2230.6 716.9 2230.3 733.3C2230.1 749.7 2232.3 761.1 2235.3 776.7C2238.4 792.2 2245.6 811.7 2248.7 826.7C2251.7 841.7 2252.8 860 2253.7 866.7" stroke-width="3.8"/>
<path d="M2182 840 L2208.7 863.3 L2248.7 866.7" stroke-width="3.8"/>
<path d="M2208.7 863.3C2210.3 866.1 2214.2 872.2 2218.7 880C2223.1 887.8 2230.9 903.9 2235.3 910C2239.8 916.1 2243.7 915.6 2245.3 916.7" stroke-width="3.8"/>
<path d="M2120 751.3C2119.2 756.1 2117.8 768.6 2115.3 780C2112.9 791.4 2108.1 805.6 2105.3 820C2102.6 834.4 2100.3 853.3 2098.7 866.7C2097 880 2094.2 888.9 2095.3 900C2096.4 911.1 2099.2 922.8 2105.3 933.3C2111.4 943.9 2122 955.6 2132 963.3C2142 971.1 2153.1 976.7 2165.3 980C2177.6 983.3 2193.7 983.3 2205.3 983.3C2217 983.3 2230.3 980.6 2235.3 980" stroke-width="4.4"/>
<path d="M2087 773.3 L2113.7 781.7" stroke-width="3.8"/>
<path d="M2072 873.3 L2095.3 871.7" stroke-width="4.4"/>
<path d="M2078.7 873.3C2079.2 883.3 2080.9 912.2 2082 933.3C2083.1 954.4 2087 987 2085.3 1000C2083.7 1013 2074.2 1009.4 2072 1011.3" stroke-width="3.8"/>
<path d="M2233.7 960 L2235.3 980" stroke-width="3.8"/>
<path d="M1918.3 878.3 L1926 796.7 L1943.3 818.3 L1985 780 L2025 826.7 L1983.3 861.7 L2000 883.3Z" stroke-width="7.2"/>
<text x="2050" y="802.3" font-size="70" text-anchor="middle" font-weight="bold">A</text>
<path d="M2088.3 775 L2113.3 778.3" stroke-width="3.8"/>
<path d="M1983.3 751.3 L1981.7 768.3" stroke-width="4.4"/>
<path d="M2026.7 855C2028.9 856.9 2033.3 863.9 2040 866.7C2046.7 869.4 2057.5 871.4 2066.7 871.7C2075.8 871.9 2090.3 868.9 2095 868.3" stroke-width="4.4"/>
<path d="M2032.3 866.7C2032.5 873.3 2032.3 891.1 2033.3 906.7C2034.3 922.2 2038.9 948.3 2038.3 960C2037.8 971.7 2036.4 972.8 2030 976.7C2023.6 980.6 2007.2 980.6 2000 983.3C1992.8 986.1 1989.4 989.4 1986.7 993.3C1983.9 997.2 1983.9 1004.4 1983.3 1006.7" stroke-width="4.4"/>
<path d="M2058.3 871.7C2058.6 883.1 2059.4 921.9 2060 940C2060.6 958.1 2062.8 971.7 2061.7 980C2060.6 988.3 2058.1 986.1 2053.3 990C2048.6 993.9 2037.5 998.9 2033.3 1003.3C2029.2 1007.8 2029.7 1011.7 2028.3 1016.7C2026.9 1021.7 2025.8 1028.3 2025 1033.3C2024.2 1038.3 2023.6 1044.4 2023.3 1046.7" stroke-width="4.4"/>
<path d="M2023.3 1046.7C2020.8 1046.8 2010.3 1051.2 2008.3 1047.3C2006.4 1043.4 2010 1031.2 2011.7 1023.3C2013.3 1015.4 2019.2 1003.1 2018.3 1000C2017.5 996.9 2010 1000.6 2006.7 1005C2003.3 1009.4 1999.7 1023.1 1998.3 1026.7" stroke-width="4.4"/>
<path d="M2080 873.3C2080.6 884.4 2082.5 919.4 2083.3 940C2084.2 960.6 2086.1 985.6 2085 996.7C2083.9 1007.8 2079.2 1001.4 2076.7 1006.7C2074.2 1011.9 2071.1 1024.7 2070 1028.3" stroke-width="3.8"/>
<path d="M1985 905 L1983.3 1030" stroke-width="5"/>
<path d="M1966.7 916.7 L1966.7 946.7" stroke-width="2.5"/>
<path d="M2016.7 906.7 L2020 960" stroke-width="3.8"/>
<path d="M1985 970 L2020 961.7" stroke-width="4.4"/>
<path d="M1980 1028.3 L1991.7 1026.7" stroke-width="4.4"/>
<path d="M1973.3 1006.7 L1981.7 1008.3" stroke-width="3.1"/>
<path d="M1921.7 1013.3 L1920 1031.7 L1936.7 1018.3" stroke-width="3.8"/>
<path d="M1938.3 1041.7 L2090 1085" stroke-width="2.5"/>
<path d="M1923.3 1053.3 L2080 1101.7 L2153.3 1170" stroke-width="4.4"/>
<path d="M2030 1020 L2126.7 1046.7 L2195 1120" stroke-width="4.4"/>
<path d="M2028.3 1033.3 L2110 1055 L2190 1140" stroke-width="3.8"/>
<path d="M2090 1085 L2156.7 1160" stroke-width="2.5"/>
<path d="M2195 1120 L2195 1140 L2153.3 1170" stroke-width="3.8"/>
<path d="M2133.3 1161.7C2133.9 1169.2 2135 1191.9 2136.7 1206.7C2138.3 1221.4 2140 1239.4 2143.3 1250C2146.7 1260.6 2152.2 1267.2 2156.7 1270C2161.1 1272.8 2165 1270 2170 1266.7C2175 1263.3 2182.2 1257.2 2186.7 1250C2191.1 1242.8 2195.1 1235 2196.7 1223.3C2198.2 1211.7 2196.3 1193.9 2196 1180C2195.7 1166.1 2195.2 1146.7 2195 1140" stroke-width="3.8"/>
<path d="M2150 1170C2150.8 1178.9 2152.2 1207.8 2155 1223.3C2157.8 1238.9 2164.7 1256.7 2166.7 1263.3" stroke-width="3.8"/>
<path d="M1923.3 1053.3 L1920 1056.7 L1916.7 1183.3" stroke-width="5.6"/>
<path d="M1900 1070 L1898.3 1190" stroke-width="4.4"/>
<path d="M1898.3 1190C1913.1 1191.9 1968.6 1200 1986.7 1201.7C2004.7 1203.3 2001.1 1202.5 2006.7 1200C2012.2 1197.5 2016.9 1192.2 2020 1186.7C2023.1 1181.1 2026.1 1177.2 2025 1166.7C2023.9 1156.1 2014.7 1136.7 2013.3 1123.3C2011.9 1110 2016.1 1092.8 2016.7 1086.7" stroke-width="4.4"/>
<path d="M1916.7 1171.7C1929.4 1173.3 1978.9 1181.4 1993.3 1181.7C2007.8 1181.9 2001.1 1176.9 2003.3 1173.3C2005.6 1169.7 2008.1 1168.3 2006.7 1160C2005.3 1151.7 1996.7 1136.1 1995 1123.3C1993.3 1110.6 1996.4 1090 1996.7 1083.3" stroke-width="4.4"/>
<path d="M1916.7 1171.7 L1960 1143.3 L1990 1123.3" stroke-width="3.8"/>
<path d="M1958.3 1066.7 L1956.7 1143.3 L1976.7 1145 L1978.3 1073.3" stroke-width="3.8"/>
<path d="M1855 716.7 L1881.7 716.7 L1893.3 733.3 L1921.7 733.3 L1923.3 753.3 L1900 755" stroke-width="3.8"/>
<path d="M1853.3 750C1852.5 743.1 1854.4 734.2 1858.3 730C1862.2 725.8 1870.8 723.9 1876.7 725C1882.5 726.1 1890 731.4 1893.3 736.7C1896.7 741.9 1898.3 750.6 1896.7 756.7C1895 762.8 1888.9 770.8 1883.3 773.3C1877.8 775.8 1868.3 775.6 1863.3 771.7C1858.3 767.8 1854.2 756.9 1853.3 750Z" stroke-width="3.8"/>
<path d="M1871.7 736.7 L1873.3 753.3" stroke-width="3.8"/>
<path d="M1900 755 L1896.7 770 L1916.7 768.3 L1920 786.7" stroke-width="3.8"/>
<path d="M1890 780 L1911.7 775" stroke-width="3.8"/>
<path d="M1878.3 780 L1880 793.3" stroke-width="3.8"/>
<path d="M1866.7 778.3C1866.4 781.4 1863.6 791.7 1865 796.7C1866.4 801.7 1873.3 806.4 1875 808.3" stroke-width="3.8"/>
<path d="M1906.7 778.3 L1905 793.3" stroke-width="3.8"/>
<path d="M1803.3 711.7C1806.1 711.4 1815 708.6 1820 710C1825 711.4 1831.1 718.3 1833.3 720" stroke-width="3.8"/>
<path d="M1800 768.3 L1815 770" stroke-width="3.8"/>
<path d="M1800 790 L1816.7 791.7" stroke-width="3.8"/>
<path d="M1803.3 760 L1801.7 786.7" stroke-width="3.8"/>
<path d="M1803.3 846.7 L1813.3 870" stroke-width="3.8"/>
<path d="M1815 843.3 L1826.7 863.3" stroke-width="3.8"/>
<path d="M1826.7 883.3C1829.4 886.7 1837.8 897.8 1843.3 903.3C1848.9 908.9 1857.2 914.4 1860 916.7" stroke-width="3.8"/>
<path d="M1838.3 880C1841.1 882.8 1849.4 891.9 1855 896.7C1860.6 901.4 1868.9 906.4 1871.7 908.3" stroke-width="3.8"/>
<path d="M1800 903.3C1802.2 903.9 1812.2 899.4 1813.3 906.7C1814.4 913.9 1807.8 940 1806.7 946.7" stroke-width="3.8"/>
<path d="M1821.7 926 L1841.7 926.7" stroke-width="3.8"/>
<path d="M1878.3 930 L1916.7 931.7" stroke-width="3.8"/>
<path d="M1903.3 940 L1900 1020" stroke-width="3.8"/>
<path d="M1723.3 316.7 L1801.7 478.3" stroke-width="4.4"/>
<path d="M1666.7 490C1675 490.8 1700 495.3 1716.7 495C1733.3 494.7 1752.5 491.1 1766.7 488.3C1780.8 485.6 1795.8 480 1801.7 478.3" stroke-width="3.8"/>
<path d="M1643.3 616.7 L1646.7 666.7" stroke-width="3.8"/>
<path d="M1646.7 610C1655.6 611.7 1684.2 615.6 1700 620C1715.8 624.4 1734.7 633.9 1741.7 636.7" stroke-width="3.8"/>
<path d="M1643.3 665 L1741.7 640" stroke-width="4.4"/>
<path d="M1640 776.7C1647.2 776.9 1667.8 776.4 1683.3 778.3C1698.9 780.3 1725 786.7 1733.3 788.3" stroke-width="3.1"/>
<path d="M1640 703.3 L1640 776.7" stroke-width="3.8"/>
</g>
</svg>
</body></html>
